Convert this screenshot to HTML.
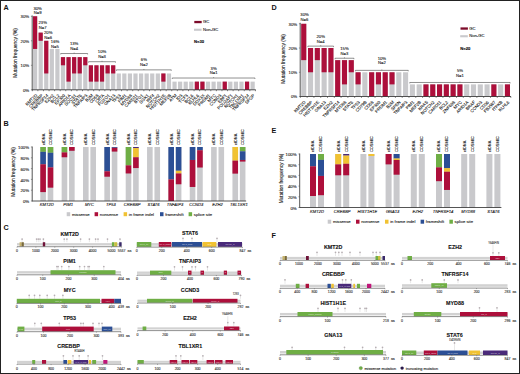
<!DOCTYPE html>
<html><head><meta charset="utf-8"><style>
html,body{margin:0;padding:0;background:#fff;}
body{width:520px;height:374px;overflow:hidden;}
svg{display:block;}
</style></head><body>
<svg width="520" height="374" viewBox="0 0 520 374" style="font-family:'Liberation Sans', sans-serif">
<rect x="0.00" y="0.00" width="520.00" height="374.00" fill="#fff" />
<text x="3.60" y="9.60" font-size="7.2" text-anchor="start" font-weight="bold" font-style="normal" fill="#111" >A</text>
<rect x="33.00" y="16.27" width="4.20" height="73.53" fill="#c9c9cc" />
<rect x="33.00" y="16.27" width="4.20" height="32.68" fill="#ad0f3b" />
<rect x="38.58" y="32.61" width="4.20" height="57.19" fill="#c9c9cc" />
<rect x="38.58" y="32.61" width="4.20" height="8.17" fill="#ad0f3b" />
<rect x="44.16" y="40.78" width="4.20" height="49.02" fill="#c9c9cc" />
<rect x="44.16" y="40.78" width="4.20" height="32.68" fill="#ad0f3b" />
<rect x="49.73" y="48.95" width="4.20" height="40.85" fill="#c9c9cc" />
<rect x="55.31" y="48.95" width="4.20" height="40.85" fill="#c9c9cc" />
<rect x="60.89" y="57.12" width="4.20" height="32.68" fill="#c9c9cc" />
<rect x="60.89" y="57.12" width="4.20" height="8.17" fill="#ad0f3b" />
<rect x="66.47" y="57.12" width="4.20" height="32.68" fill="#c9c9cc" />
<rect x="66.47" y="57.12" width="4.20" height="24.51" fill="#ad0f3b" />
<rect x="72.05" y="57.12" width="4.20" height="32.68" fill="#c9c9cc" />
<rect x="72.05" y="57.12" width="4.20" height="16.34" fill="#ad0f3b" />
<rect x="77.62" y="57.12" width="4.20" height="32.68" fill="#c9c9cc" />
<rect x="77.62" y="57.12" width="4.20" height="16.34" fill="#ad0f3b" />
<rect x="83.20" y="57.12" width="4.20" height="32.68" fill="#c9c9cc" />
<rect x="83.20" y="57.12" width="4.20" height="8.17" fill="#ad0f3b" />
<rect x="88.78" y="65.29" width="4.20" height="24.51" fill="#c9c9cc" />
<rect x="88.78" y="65.29" width="4.20" height="16.34" fill="#ad0f3b" />
<rect x="94.36" y="65.29" width="4.20" height="24.51" fill="#c9c9cc" />
<rect x="94.36" y="65.29" width="4.20" height="16.34" fill="#ad0f3b" />
<rect x="99.94" y="65.29" width="4.20" height="24.51" fill="#c9c9cc" />
<rect x="99.94" y="65.29" width="4.20" height="16.34" fill="#ad0f3b" />
<rect x="105.51" y="65.29" width="4.20" height="24.51" fill="#c9c9cc" />
<rect x="105.51" y="65.29" width="4.20" height="8.17" fill="#ad0f3b" />
<rect x="111.09" y="65.29" width="4.20" height="24.51" fill="#c9c9cc" />
<rect x="111.09" y="65.29" width="4.20" height="8.17" fill="#ad0f3b" />
<rect x="116.67" y="73.46" width="4.20" height="16.34" fill="#c9c9cc" />
<rect x="122.25" y="73.46" width="4.20" height="16.34" fill="#c9c9cc" />
<rect x="127.83" y="73.46" width="4.20" height="16.34" fill="#c9c9cc" />
<rect x="133.40" y="73.46" width="4.20" height="16.34" fill="#c9c9cc" />
<rect x="138.98" y="73.46" width="4.20" height="16.34" fill="#c9c9cc" />
<rect x="144.56" y="73.46" width="4.20" height="16.34" fill="#c9c9cc" />
<rect x="150.14" y="73.46" width="4.20" height="16.34" fill="#c9c9cc" />
<rect x="155.72" y="73.46" width="4.20" height="16.34" fill="#c9c9cc" />
<rect x="161.29" y="73.46" width="4.20" height="16.34" fill="#c9c9cc" />
<rect x="161.29" y="73.46" width="4.20" height="8.17" fill="#ad0f3b" />
<rect x="166.87" y="73.46" width="4.20" height="16.34" fill="#c9c9cc" />
<rect x="172.45" y="81.63" width="4.20" height="8.17" fill="#c9c9cc" />
<rect x="178.03" y="81.63" width="4.20" height="8.17" fill="#c9c9cc" />
<rect x="183.61" y="81.63" width="4.20" height="8.17" fill="#c9c9cc" />
<rect x="189.18" y="81.63" width="4.20" height="8.17" fill="#c9c9cc" />
<rect x="194.76" y="81.63" width="4.20" height="8.17" fill="#c9c9cc" />
<rect x="194.76" y="81.63" width="4.20" height="8.17" fill="#ad0f3b" />
<rect x="200.34" y="81.63" width="4.20" height="8.17" fill="#c9c9cc" />
<rect x="200.34" y="81.63" width="4.20" height="8.17" fill="#ad0f3b" />
<rect x="205.92" y="81.63" width="4.20" height="8.17" fill="#c9c9cc" />
<rect x="211.50" y="81.63" width="4.20" height="8.17" fill="#c9c9cc" />
<rect x="217.07" y="81.63" width="4.20" height="8.17" fill="#c9c9cc" />
<rect x="222.65" y="81.63" width="4.20" height="8.17" fill="#c9c9cc" />
<rect x="222.65" y="81.63" width="4.20" height="8.17" fill="#ad0f3b" />
<rect x="228.23" y="81.63" width="4.20" height="8.17" fill="#c9c9cc" />
<rect x="233.81" y="81.63" width="4.20" height="8.17" fill="#c9c9cc" />
<rect x="239.39" y="81.63" width="4.20" height="8.17" fill="#c9c9cc" />
<rect x="244.96" y="81.63" width="4.20" height="8.17" fill="#c9c9cc" />
<rect x="244.96" y="81.63" width="4.20" height="8.17" fill="#ad0f3b" />
<rect x="250.54" y="81.63" width="4.20" height="8.17" fill="#c9c9cc" />
<line x1="32.20" y1="15.50" x2="32.20" y2="90.20" stroke="#2a2a2a" stroke-width="0.8"/>
<line x1="32.20" y1="89.80" x2="255.74" y2="89.80" stroke="#2a2a2a" stroke-width="0.8"/>
<line x1="32.31" y1="89.80" x2="32.31" y2="91.20" stroke="#333" stroke-width="0.6"/>
<line x1="37.89" y1="89.80" x2="37.89" y2="91.20" stroke="#333" stroke-width="0.6"/>
<line x1="43.47" y1="89.80" x2="43.47" y2="91.20" stroke="#333" stroke-width="0.6"/>
<line x1="49.05" y1="89.80" x2="49.05" y2="91.20" stroke="#333" stroke-width="0.6"/>
<line x1="54.62" y1="89.80" x2="54.62" y2="91.20" stroke="#333" stroke-width="0.6"/>
<line x1="60.20" y1="89.80" x2="60.20" y2="91.20" stroke="#333" stroke-width="0.6"/>
<line x1="65.78" y1="89.80" x2="65.78" y2="91.20" stroke="#333" stroke-width="0.6"/>
<line x1="71.36" y1="89.80" x2="71.36" y2="91.20" stroke="#333" stroke-width="0.6"/>
<line x1="76.94" y1="89.80" x2="76.94" y2="91.20" stroke="#333" stroke-width="0.6"/>
<line x1="82.51" y1="89.80" x2="82.51" y2="91.20" stroke="#333" stroke-width="0.6"/>
<line x1="88.09" y1="89.80" x2="88.09" y2="91.20" stroke="#333" stroke-width="0.6"/>
<line x1="93.67" y1="89.80" x2="93.67" y2="91.20" stroke="#333" stroke-width="0.6"/>
<line x1="99.25" y1="89.80" x2="99.25" y2="91.20" stroke="#333" stroke-width="0.6"/>
<line x1="104.83" y1="89.80" x2="104.83" y2="91.20" stroke="#333" stroke-width="0.6"/>
<line x1="110.40" y1="89.80" x2="110.40" y2="91.20" stroke="#333" stroke-width="0.6"/>
<line x1="115.98" y1="89.80" x2="115.98" y2="91.20" stroke="#333" stroke-width="0.6"/>
<line x1="121.56" y1="89.80" x2="121.56" y2="91.20" stroke="#333" stroke-width="0.6"/>
<line x1="127.14" y1="89.80" x2="127.14" y2="91.20" stroke="#333" stroke-width="0.6"/>
<line x1="132.72" y1="89.80" x2="132.72" y2="91.20" stroke="#333" stroke-width="0.6"/>
<line x1="138.29" y1="89.80" x2="138.29" y2="91.20" stroke="#333" stroke-width="0.6"/>
<line x1="143.87" y1="89.80" x2="143.87" y2="91.20" stroke="#333" stroke-width="0.6"/>
<line x1="149.45" y1="89.80" x2="149.45" y2="91.20" stroke="#333" stroke-width="0.6"/>
<line x1="155.03" y1="89.80" x2="155.03" y2="91.20" stroke="#333" stroke-width="0.6"/>
<line x1="160.61" y1="89.80" x2="160.61" y2="91.20" stroke="#333" stroke-width="0.6"/>
<line x1="166.18" y1="89.80" x2="166.18" y2="91.20" stroke="#333" stroke-width="0.6"/>
<line x1="171.76" y1="89.80" x2="171.76" y2="91.20" stroke="#333" stroke-width="0.6"/>
<line x1="177.34" y1="89.80" x2="177.34" y2="91.20" stroke="#333" stroke-width="0.6"/>
<line x1="182.92" y1="89.80" x2="182.92" y2="91.20" stroke="#333" stroke-width="0.6"/>
<line x1="188.50" y1="89.80" x2="188.50" y2="91.20" stroke="#333" stroke-width="0.6"/>
<line x1="194.07" y1="89.80" x2="194.07" y2="91.20" stroke="#333" stroke-width="0.6"/>
<line x1="199.65" y1="89.80" x2="199.65" y2="91.20" stroke="#333" stroke-width="0.6"/>
<line x1="205.23" y1="89.80" x2="205.23" y2="91.20" stroke="#333" stroke-width="0.6"/>
<line x1="210.81" y1="89.80" x2="210.81" y2="91.20" stroke="#333" stroke-width="0.6"/>
<line x1="216.39" y1="89.80" x2="216.39" y2="91.20" stroke="#333" stroke-width="0.6"/>
<line x1="221.96" y1="89.80" x2="221.96" y2="91.20" stroke="#333" stroke-width="0.6"/>
<line x1="227.54" y1="89.80" x2="227.54" y2="91.20" stroke="#333" stroke-width="0.6"/>
<line x1="233.12" y1="89.80" x2="233.12" y2="91.20" stroke="#333" stroke-width="0.6"/>
<line x1="238.70" y1="89.80" x2="238.70" y2="91.20" stroke="#333" stroke-width="0.6"/>
<line x1="244.28" y1="89.80" x2="244.28" y2="91.20" stroke="#333" stroke-width="0.6"/>
<line x1="249.85" y1="89.80" x2="249.85" y2="91.20" stroke="#333" stroke-width="0.6"/>
<line x1="255.43" y1="89.80" x2="255.43" y2="91.20" stroke="#333" stroke-width="0.6"/>
<line x1="30.90" y1="89.80" x2="32.20" y2="89.80" stroke="#444" stroke-width="0.5"/>
<text x="29.20" y="91.70" font-size="4.3" text-anchor="end" font-weight="normal" font-style="normal" fill="#1a1a1a" stroke="#1a1a1a" stroke-width="0.1" >0%</text>
<line x1="30.90" y1="65.30" x2="32.20" y2="65.30" stroke="#444" stroke-width="0.5"/>
<text x="29.20" y="67.20" font-size="4.3" text-anchor="end" font-weight="normal" font-style="normal" fill="#1a1a1a" stroke="#1a1a1a" stroke-width="0.1" >10%</text>
<line x1="30.90" y1="40.80" x2="32.20" y2="40.80" stroke="#444" stroke-width="0.5"/>
<text x="29.20" y="42.70" font-size="4.3" text-anchor="end" font-weight="normal" font-style="normal" fill="#1a1a1a" stroke="#1a1a1a" stroke-width="0.1" >20%</text>
<line x1="30.90" y1="16.30" x2="32.20" y2="16.30" stroke="#444" stroke-width="0.5"/>
<text x="29.20" y="18.20" font-size="4.3" text-anchor="end" font-weight="normal" font-style="normal" fill="#1a1a1a" stroke="#1a1a1a" stroke-width="0.1" >30%</text>
<text x="16.70" y="53.00" font-size="4.8" text-anchor="middle" font-weight="normal" font-style="normal" fill="#1a1a1a" stroke="#1a1a1a" stroke-width="0.1" transform="rotate(-90 16.70 53.00)" >Mutation frequency (%)</text>
<text x="37.60" y="95.80" font-size="4.3" text-anchor="end" font-weight="normal" font-style="normal" fill="#222" stroke="#222" stroke-width="0.1" transform="rotate(-45 37.60 95.80)" >KMT2D</text>
<text x="43.18" y="95.80" font-size="4.3" text-anchor="end" font-weight="normal" font-style="normal" fill="#222" stroke="#222" stroke-width="0.1" transform="rotate(-45 43.18 95.80)" >CREBBP</text>
<text x="48.76" y="95.80" font-size="4.3" text-anchor="end" font-weight="normal" font-style="normal" fill="#222" stroke="#222" stroke-width="0.1" transform="rotate(-45 48.76 95.80)" >TNFRSF14</text>
<text x="54.33" y="95.80" font-size="4.3" text-anchor="end" font-weight="normal" font-style="normal" fill="#222" stroke="#222" stroke-width="0.1" transform="rotate(-45 54.33 95.80)" >EZH2</text>
<text x="59.91" y="95.80" font-size="4.3" text-anchor="end" font-weight="normal" font-style="normal" fill="#222" stroke="#222" stroke-width="0.1" transform="rotate(-45 59.91 95.80)" >BCL2</text>
<text x="65.49" y="95.80" font-size="4.3" text-anchor="end" font-weight="normal" font-style="normal" fill="#222" stroke="#222" stroke-width="0.1" transform="rotate(-45 65.49 95.80)" >EP300</text>
<text x="71.07" y="95.80" font-size="4.3" text-anchor="end" font-weight="normal" font-style="normal" fill="#222" stroke="#222" stroke-width="0.1" transform="rotate(-45 71.07 95.80)" >ARID1A</text>
<text x="76.65" y="95.80" font-size="4.3" text-anchor="end" font-weight="normal" font-style="normal" fill="#222" stroke="#222" stroke-width="0.1" transform="rotate(-45 76.65 95.80)" >SOCS1</text>
<text x="82.22" y="95.80" font-size="4.3" text-anchor="end" font-weight="normal" font-style="normal" fill="#222" stroke="#222" stroke-width="0.1" transform="rotate(-45 82.22 95.80)" >STAT6</text>
<text x="87.80" y="95.80" font-size="4.3" text-anchor="end" font-weight="normal" font-style="normal" fill="#222" stroke="#222" stroke-width="0.1" transform="rotate(-45 87.80 95.80)" >TNFAIP3</text>
<text x="93.38" y="95.80" font-size="4.3" text-anchor="end" font-weight="normal" font-style="normal" fill="#222" stroke="#222" stroke-width="0.1" transform="rotate(-45 93.38 95.80)" >B2M</text>
<text x="98.96" y="95.80" font-size="4.3" text-anchor="end" font-weight="normal" font-style="normal" fill="#222" stroke="#222" stroke-width="0.1" transform="rotate(-45 98.96 95.80)" >CD58</text>
<text x="104.54" y="95.80" font-size="4.3" text-anchor="end" font-weight="normal" font-style="normal" fill="#222" stroke="#222" stroke-width="0.1" transform="rotate(-45 104.54 95.80)" >CIITA</text>
<text x="110.11" y="95.80" font-size="4.3" text-anchor="end" font-weight="normal" font-style="normal" fill="#222" stroke="#222" stroke-width="0.1" transform="rotate(-45 110.11 95.80)" >FOXO1</text>
<text x="115.69" y="95.80" font-size="4.3" text-anchor="end" font-weight="normal" font-style="normal" fill="#222" stroke="#222" stroke-width="0.1" transform="rotate(-45 115.69 95.80)" >GNA13</text>
<text x="121.27" y="95.80" font-size="4.3" text-anchor="end" font-weight="normal" font-style="normal" fill="#222" stroke="#222" stroke-width="0.1" transform="rotate(-45 121.27 95.80)" >TP53</text>
<text x="126.85" y="95.80" font-size="4.3" text-anchor="end" font-weight="normal" font-style="normal" fill="#222" stroke="#222" stroke-width="0.1" transform="rotate(-45 126.85 95.80)" >PIM1</text>
<text x="132.43" y="95.80" font-size="4.3" text-anchor="end" font-weight="normal" font-style="normal" fill="#222" stroke="#222" stroke-width="0.1" transform="rotate(-45 132.43 95.80)" >MYD88</text>
<text x="138.00" y="95.80" font-size="4.3" text-anchor="end" font-weight="normal" font-style="normal" fill="#222" stroke="#222" stroke-width="0.1" transform="rotate(-45 138.00 95.80)" >CARD11</text>
<text x="143.58" y="95.80" font-size="4.3" text-anchor="end" font-weight="normal" font-style="normal" fill="#222" stroke="#222" stroke-width="0.1" transform="rotate(-45 143.58 95.80)" >BTG1</text>
<text x="149.16" y="95.80" font-size="4.3" text-anchor="end" font-weight="normal" font-style="normal" fill="#222" stroke="#222" stroke-width="0.1" transform="rotate(-45 149.16 95.80)" >SGK1</text>
<text x="154.74" y="95.80" font-size="4.3" text-anchor="end" font-weight="normal" font-style="normal" fill="#222" stroke="#222" stroke-width="0.1" transform="rotate(-45 154.74 95.80)" >IRF4</text>
<text x="160.32" y="95.80" font-size="4.3" text-anchor="end" font-weight="normal" font-style="normal" fill="#222" stroke="#222" stroke-width="0.1" transform="rotate(-45 160.32 95.80)" >NOTCH2</text>
<text x="165.89" y="95.80" font-size="4.3" text-anchor="end" font-weight="normal" font-style="normal" fill="#222" stroke="#222" stroke-width="0.1" transform="rotate(-45 165.89 95.80)" >HIST1H1E</text>
<text x="171.47" y="95.80" font-size="4.3" text-anchor="end" font-weight="normal" font-style="normal" fill="#222" stroke="#222" stroke-width="0.1" transform="rotate(-45 171.47 95.80)" >MEF2B</text>
<text x="177.05" y="95.80" font-size="4.3" text-anchor="end" font-weight="normal" font-style="normal" fill="#222" stroke="#222" stroke-width="0.1" transform="rotate(-45 177.05 95.80)" >ATM</text>
<text x="182.63" y="95.80" font-size="4.3" text-anchor="end" font-weight="normal" font-style="normal" fill="#222" stroke="#222" stroke-width="0.1" transform="rotate(-45 182.63 95.80)" >ID3</text>
<text x="188.21" y="95.80" font-size="4.3" text-anchor="end" font-weight="normal" font-style="normal" fill="#222" stroke="#222" stroke-width="0.1" transform="rotate(-45 188.21 95.80)" >TCF3</text>
<text x="193.78" y="95.80" font-size="4.3" text-anchor="end" font-weight="normal" font-style="normal" fill="#222" stroke="#222" stroke-width="0.1" transform="rotate(-45 193.78 95.80)" >BCL6</text>
<text x="199.36" y="95.80" font-size="4.3" text-anchor="end" font-weight="normal" font-style="normal" fill="#222" stroke="#222" stroke-width="0.1" transform="rotate(-45 199.36 95.80)" >KLHL6</text>
<text x="204.94" y="95.80" font-size="4.3" text-anchor="end" font-weight="normal" font-style="normal" fill="#222" stroke="#222" stroke-width="0.1" transform="rotate(-45 204.94 95.80)" >DDX3X</text>
<text x="210.52" y="95.80" font-size="4.3" text-anchor="end" font-weight="normal" font-style="normal" fill="#222" stroke="#222" stroke-width="0.1" transform="rotate(-45 210.52 95.80)" >PRDM1</text>
<text x="216.10" y="95.80" font-size="4.3" text-anchor="end" font-weight="normal" font-style="normal" fill="#222" stroke="#222" stroke-width="0.1" transform="rotate(-45 216.10 95.80)" >MYC</text>
<text x="221.67" y="95.80" font-size="4.3" text-anchor="end" font-weight="normal" font-style="normal" fill="#222" stroke="#222" stroke-width="0.1" transform="rotate(-45 221.67 95.80)" >CCND3</text>
<text x="227.25" y="95.80" font-size="4.3" text-anchor="end" font-weight="normal" font-style="normal" fill="#222" stroke="#222" stroke-width="0.1" transform="rotate(-45 227.25 95.80)" >EBF1</text>
<text x="232.83" y="95.80" font-size="4.3" text-anchor="end" font-weight="normal" font-style="normal" fill="#222" stroke="#222" stroke-width="0.1" transform="rotate(-45 232.83 95.80)" >POU2AF1</text>
<text x="238.41" y="95.80" font-size="4.3" text-anchor="end" font-weight="normal" font-style="normal" fill="#222" stroke="#222" stroke-width="0.1" transform="rotate(-45 238.41 95.80)" >NOTCH1</text>
<text x="243.99" y="95.80" font-size="4.3" text-anchor="end" font-weight="normal" font-style="normal" fill="#222" stroke="#222" stroke-width="0.1" transform="rotate(-45 243.99 95.80)" >TBL1XR1</text>
<text x="249.56" y="95.80" font-size="4.3" text-anchor="end" font-weight="normal" font-style="normal" fill="#222" stroke="#222" stroke-width="0.1" transform="rotate(-45 249.56 95.80)" >TNFRSF14</text>
<text x="255.14" y="95.80" font-size="4.3" text-anchor="end" font-weight="normal" font-style="normal" fill="#222" stroke="#222" stroke-width="0.1" transform="rotate(-45 255.14 95.80)" >SPOP</text>
<text x="37.60" y="9.85" font-size="4.2" text-anchor="middle" font-weight="normal" font-style="normal" fill="#1a1a1a" stroke="#1a1a1a" stroke-width="0.1" >30%</text>
<text x="37.60" y="14.15" font-size="4.2" text-anchor="middle" font-weight="normal" font-style="normal" fill="#1a1a1a" stroke="#1a1a1a" stroke-width="0.1" >N=9</text>
<text x="42.70" y="23.80" font-size="4.2" text-anchor="middle" font-weight="normal" font-style="normal" fill="#1a1a1a" stroke="#1a1a1a" stroke-width="0.1" >23%</text>
<text x="42.70" y="28.90" font-size="4.2" text-anchor="middle" font-weight="normal" font-style="normal" fill="#1a1a1a" stroke="#1a1a1a" stroke-width="0.1" >N=7</text>
<text x="48.20" y="33.90" font-size="4.2" text-anchor="middle" font-weight="normal" font-style="normal" fill="#1a1a1a" stroke="#1a1a1a" stroke-width="0.1" >20%</text>
<text x="48.20" y="38.50" font-size="4.2" text-anchor="middle" font-weight="normal" font-style="normal" fill="#1a1a1a" stroke="#1a1a1a" stroke-width="0.1" >N=6</text>
<text x="55.00" y="42.80" font-size="4.2" text-anchor="middle" font-weight="normal" font-style="normal" fill="#1a1a1a" stroke="#1a1a1a" stroke-width="0.1" >16%</text>
<text x="55.00" y="47.60" font-size="4.2" text-anchor="middle" font-weight="normal" font-style="normal" fill="#1a1a1a" stroke="#1a1a1a" stroke-width="0.1" >N=5</text>
<line x1="60.69" y1="53.52" x2="87.60" y2="53.52" stroke="#444" stroke-width="0.6"/>
<line x1="60.69" y1="53.42" x2="60.69" y2="54.52" stroke="#444" stroke-width="0.5"/>
<line x1="87.60" y1="53.42" x2="87.60" y2="54.52" stroke="#444" stroke-width="0.5"/>
<line x1="74.15" y1="52.62" x2="74.15" y2="53.52" stroke="#444" stroke-width="0.5"/>
<text x="74.15" y="45.12" font-size="4.2" text-anchor="middle" font-weight="normal" font-style="normal" fill="#1a1a1a" stroke="#1a1a1a" stroke-width="0.1" >13%</text>
<text x="74.15" y="49.72" font-size="4.2" text-anchor="middle" font-weight="normal" font-style="normal" fill="#1a1a1a" stroke="#1a1a1a" stroke-width="0.1" >N=4</text>
<line x1="88.58" y1="61.69" x2="115.49" y2="61.69" stroke="#444" stroke-width="0.6"/>
<line x1="88.58" y1="61.59" x2="88.58" y2="62.69" stroke="#444" stroke-width="0.5"/>
<line x1="115.49" y1="61.59" x2="115.49" y2="62.69" stroke="#444" stroke-width="0.5"/>
<line x1="102.04" y1="60.79" x2="102.04" y2="61.69" stroke="#444" stroke-width="0.5"/>
<text x="102.04" y="53.29" font-size="4.2" text-anchor="middle" font-weight="normal" font-style="normal" fill="#1a1a1a" stroke="#1a1a1a" stroke-width="0.1" >10%</text>
<text x="102.04" y="57.89" font-size="4.2" text-anchor="middle" font-weight="normal" font-style="normal" fill="#1a1a1a" stroke="#1a1a1a" stroke-width="0.1" >N=3</text>
<line x1="116.47" y1="69.86" x2="171.27" y2="69.86" stroke="#444" stroke-width="0.6"/>
<line x1="116.47" y1="69.76" x2="116.47" y2="70.86" stroke="#444" stroke-width="0.5"/>
<line x1="171.27" y1="69.76" x2="171.27" y2="70.86" stroke="#444" stroke-width="0.5"/>
<line x1="143.87" y1="68.96" x2="143.87" y2="69.86" stroke="#444" stroke-width="0.5"/>
<text x="143.87" y="61.46" font-size="4.2" text-anchor="middle" font-weight="normal" font-style="normal" fill="#1a1a1a" stroke="#1a1a1a" stroke-width="0.1" >6%</text>
<text x="143.87" y="66.06" font-size="4.2" text-anchor="middle" font-weight="normal" font-style="normal" fill="#1a1a1a" stroke="#1a1a1a" stroke-width="0.1" >N=2</text>
<line x1="172.25" y1="78.03" x2="254.94" y2="78.03" stroke="#444" stroke-width="0.6"/>
<line x1="172.25" y1="77.93" x2="172.25" y2="79.03" stroke="#444" stroke-width="0.5"/>
<line x1="254.94" y1="77.93" x2="254.94" y2="79.03" stroke="#444" stroke-width="0.5"/>
<line x1="213.60" y1="77.13" x2="213.60" y2="78.03" stroke="#444" stroke-width="0.5"/>
<text x="213.60" y="69.63" font-size="4.2" text-anchor="middle" font-weight="normal" font-style="normal" fill="#1a1a1a" stroke="#1a1a1a" stroke-width="0.1" >3%</text>
<text x="213.60" y="74.23" font-size="4.2" text-anchor="middle" font-weight="normal" font-style="normal" fill="#1a1a1a" stroke="#1a1a1a" stroke-width="0.1" >N=1</text>
<rect x="194.30" y="20.90" width="7.40" height="2.30" fill="#7c0a2a" />
<text x="203.00" y="23.00" font-size="4.2" text-anchor="start" font-weight="normal" font-style="normal" fill="#1a1a1a" stroke="#1a1a1a" stroke-width="0.1" >GC</text>
<rect x="194.00" y="28.70" width="7.60" height="2.10" fill="#c9c9cc" />
<text x="203.00" y="30.90" font-size="4.2" text-anchor="start" font-weight="normal" font-style="normal" fill="#1a1a1a" stroke="#1a1a1a" stroke-width="0.1" >Non-GC</text>
<text x="194.00" y="43.40" font-size="4.2" text-anchor="start" font-weight="bold" font-style="normal" fill="#000" stroke="#000" stroke-width="0.1" >N=30</text>
<text x="271.60" y="9.60" font-size="7.2" text-anchor="start" font-weight="bold" font-style="normal" fill="#111" >D</text>
<rect x="301.20" y="23.78" width="5.10" height="72.72" fill="#c9c9cc" />
<rect x="301.20" y="23.78" width="5.10" height="36.36" fill="#ad0f3b" />
<rect x="307.99" y="48.02" width="5.10" height="48.48" fill="#c9c9cc" />
<rect x="307.99" y="48.02" width="5.10" height="24.24" fill="#ad0f3b" />
<rect x="314.78" y="48.02" width="5.10" height="48.48" fill="#c9c9cc" />
<rect x="314.78" y="48.02" width="5.10" height="12.12" fill="#ad0f3b" />
<rect x="321.57" y="48.02" width="5.10" height="48.48" fill="#c9c9cc" />
<rect x="321.57" y="48.02" width="5.10" height="24.24" fill="#ad0f3b" />
<rect x="328.36" y="48.02" width="5.10" height="48.48" fill="#c9c9cc" />
<rect x="328.36" y="48.02" width="5.10" height="24.24" fill="#ad0f3b" />
<rect x="335.15" y="60.14" width="5.10" height="36.36" fill="#c9c9cc" />
<rect x="335.15" y="60.14" width="5.10" height="36.36" fill="#ad0f3b" />
<rect x="341.94" y="60.14" width="5.10" height="36.36" fill="#c9c9cc" />
<rect x="341.94" y="60.14" width="5.10" height="24.24" fill="#ad0f3b" />
<rect x="348.73" y="60.14" width="5.10" height="36.36" fill="#c9c9cc" />
<rect x="348.73" y="60.14" width="5.10" height="12.12" fill="#ad0f3b" />
<rect x="355.52" y="72.26" width="5.10" height="24.24" fill="#c9c9cc" />
<rect x="355.52" y="72.26" width="5.10" height="12.12" fill="#ad0f3b" />
<rect x="362.31" y="72.26" width="5.10" height="24.24" fill="#c9c9cc" />
<rect x="369.10" y="72.26" width="5.10" height="24.24" fill="#c9c9cc" />
<rect x="369.10" y="72.26" width="5.10" height="24.24" fill="#ad0f3b" />
<rect x="375.89" y="72.26" width="5.10" height="24.24" fill="#c9c9cc" />
<rect x="375.89" y="72.26" width="5.10" height="12.12" fill="#ad0f3b" />
<rect x="382.68" y="72.26" width="5.10" height="24.24" fill="#c9c9cc" />
<rect x="382.68" y="72.26" width="5.10" height="24.24" fill="#ad0f3b" />
<rect x="389.47" y="72.26" width="5.10" height="24.24" fill="#c9c9cc" />
<rect x="389.47" y="72.26" width="5.10" height="12.12" fill="#ad0f3b" />
<rect x="396.26" y="72.26" width="5.10" height="24.24" fill="#c9c9cc" />
<rect x="403.05" y="72.26" width="5.10" height="24.24" fill="#c9c9cc" />
<rect x="409.84" y="84.38" width="5.10" height="12.12" fill="#c9c9cc" />
<rect x="416.63" y="84.38" width="5.10" height="12.12" fill="#c9c9cc" />
<rect x="423.42" y="84.38" width="5.10" height="12.12" fill="#c9c9cc" />
<rect x="423.42" y="84.38" width="5.10" height="12.12" fill="#ad0f3b" />
<rect x="430.21" y="84.38" width="5.10" height="12.12" fill="#c9c9cc" />
<rect x="430.21" y="84.38" width="5.10" height="12.12" fill="#ad0f3b" />
<rect x="437.00" y="84.38" width="5.10" height="12.12" fill="#c9c9cc" />
<rect x="437.00" y="84.38" width="5.10" height="12.12" fill="#ad0f3b" />
<rect x="443.79" y="84.38" width="5.10" height="12.12" fill="#c9c9cc" />
<rect x="443.79" y="84.38" width="5.10" height="12.12" fill="#ad0f3b" />
<rect x="450.58" y="84.38" width="5.10" height="12.12" fill="#c9c9cc" />
<rect x="450.58" y="84.38" width="5.10" height="12.12" fill="#ad0f3b" />
<rect x="457.37" y="84.38" width="5.10" height="12.12" fill="#c9c9cc" />
<rect x="457.37" y="84.38" width="5.10" height="12.12" fill="#ad0f3b" />
<rect x="464.16" y="84.38" width="5.10" height="12.12" fill="#c9c9cc" />
<rect x="470.95" y="84.38" width="5.10" height="12.12" fill="#c9c9cc" />
<rect x="477.74" y="84.38" width="5.10" height="12.12" fill="#c9c9cc" />
<rect x="484.53" y="84.38" width="5.10" height="12.12" fill="#c9c9cc" />
<rect x="491.32" y="84.38" width="5.10" height="12.12" fill="#c9c9cc" />
<rect x="491.32" y="84.38" width="5.10" height="12.12" fill="#ad0f3b" />
<rect x="498.11" y="84.38" width="5.10" height="12.12" fill="#c9c9cc" />
<rect x="504.90" y="84.38" width="5.10" height="12.12" fill="#c9c9cc" />
<rect x="504.90" y="84.38" width="5.10" height="12.12" fill="#ad0f3b" />
<line x1="300.20" y1="22.80" x2="300.20" y2="96.90" stroke="#2a2a2a" stroke-width="0.8"/>
<line x1="300.20" y1="96.50" x2="511.00" y2="96.50" stroke="#2a2a2a" stroke-width="0.8"/>
<line x1="300.35" y1="96.50" x2="300.35" y2="97.90" stroke="#333" stroke-width="0.6"/>
<line x1="307.14" y1="96.50" x2="307.14" y2="97.90" stroke="#333" stroke-width="0.6"/>
<line x1="313.93" y1="96.50" x2="313.93" y2="97.90" stroke="#333" stroke-width="0.6"/>
<line x1="320.72" y1="96.50" x2="320.72" y2="97.90" stroke="#333" stroke-width="0.6"/>
<line x1="327.51" y1="96.50" x2="327.51" y2="97.90" stroke="#333" stroke-width="0.6"/>
<line x1="334.30" y1="96.50" x2="334.30" y2="97.90" stroke="#333" stroke-width="0.6"/>
<line x1="341.09" y1="96.50" x2="341.09" y2="97.90" stroke="#333" stroke-width="0.6"/>
<line x1="347.88" y1="96.50" x2="347.88" y2="97.90" stroke="#333" stroke-width="0.6"/>
<line x1="354.67" y1="96.50" x2="354.67" y2="97.90" stroke="#333" stroke-width="0.6"/>
<line x1="361.46" y1="96.50" x2="361.46" y2="97.90" stroke="#333" stroke-width="0.6"/>
<line x1="368.25" y1="96.50" x2="368.25" y2="97.90" stroke="#333" stroke-width="0.6"/>
<line x1="375.04" y1="96.50" x2="375.04" y2="97.90" stroke="#333" stroke-width="0.6"/>
<line x1="381.83" y1="96.50" x2="381.83" y2="97.90" stroke="#333" stroke-width="0.6"/>
<line x1="388.62" y1="96.50" x2="388.62" y2="97.90" stroke="#333" stroke-width="0.6"/>
<line x1="395.41" y1="96.50" x2="395.41" y2="97.90" stroke="#333" stroke-width="0.6"/>
<line x1="402.20" y1="96.50" x2="402.20" y2="97.90" stroke="#333" stroke-width="0.6"/>
<line x1="408.99" y1="96.50" x2="408.99" y2="97.90" stroke="#333" stroke-width="0.6"/>
<line x1="415.78" y1="96.50" x2="415.78" y2="97.90" stroke="#333" stroke-width="0.6"/>
<line x1="422.57" y1="96.50" x2="422.57" y2="97.90" stroke="#333" stroke-width="0.6"/>
<line x1="429.36" y1="96.50" x2="429.36" y2="97.90" stroke="#333" stroke-width="0.6"/>
<line x1="436.15" y1="96.50" x2="436.15" y2="97.90" stroke="#333" stroke-width="0.6"/>
<line x1="442.94" y1="96.50" x2="442.94" y2="97.90" stroke="#333" stroke-width="0.6"/>
<line x1="449.73" y1="96.50" x2="449.73" y2="97.90" stroke="#333" stroke-width="0.6"/>
<line x1="456.52" y1="96.50" x2="456.52" y2="97.90" stroke="#333" stroke-width="0.6"/>
<line x1="463.31" y1="96.50" x2="463.31" y2="97.90" stroke="#333" stroke-width="0.6"/>
<line x1="470.10" y1="96.50" x2="470.10" y2="97.90" stroke="#333" stroke-width="0.6"/>
<line x1="476.89" y1="96.50" x2="476.89" y2="97.90" stroke="#333" stroke-width="0.6"/>
<line x1="483.68" y1="96.50" x2="483.68" y2="97.90" stroke="#333" stroke-width="0.6"/>
<line x1="490.47" y1="96.50" x2="490.47" y2="97.90" stroke="#333" stroke-width="0.6"/>
<line x1="497.26" y1="96.50" x2="497.26" y2="97.90" stroke="#333" stroke-width="0.6"/>
<line x1="504.05" y1="96.50" x2="504.05" y2="97.90" stroke="#333" stroke-width="0.6"/>
<line x1="510.84" y1="96.50" x2="510.84" y2="97.90" stroke="#333" stroke-width="0.6"/>
<line x1="298.90" y1="96.50" x2="300.20" y2="96.50" stroke="#444" stroke-width="0.5"/>
<text x="297.20" y="98.40" font-size="4.3" text-anchor="end" font-weight="normal" font-style="normal" fill="#1a1a1a" stroke="#1a1a1a" stroke-width="0.1" >0%</text>
<line x1="298.90" y1="72.27" x2="300.20" y2="72.27" stroke="#444" stroke-width="0.5"/>
<text x="297.20" y="74.17" font-size="4.3" text-anchor="end" font-weight="normal" font-style="normal" fill="#1a1a1a" stroke="#1a1a1a" stroke-width="0.1" >10%</text>
<line x1="298.90" y1="48.04" x2="300.20" y2="48.04" stroke="#444" stroke-width="0.5"/>
<text x="297.20" y="49.94" font-size="4.3" text-anchor="end" font-weight="normal" font-style="normal" fill="#1a1a1a" stroke="#1a1a1a" stroke-width="0.1" >20%</text>
<line x1="298.90" y1="23.81" x2="300.20" y2="23.81" stroke="#444" stroke-width="0.5"/>
<text x="297.20" y="25.71" font-size="4.3" text-anchor="end" font-weight="normal" font-style="normal" fill="#1a1a1a" stroke="#1a1a1a" stroke-width="0.1" >30%</text>
<text x="284.50" y="59.00" font-size="4.8" text-anchor="middle" font-weight="normal" font-style="normal" fill="#1a1a1a" stroke="#1a1a1a" stroke-width="0.1" transform="rotate(-90 284.50 59.00)" >Mutation frequency (%)</text>
<text x="305.95" y="102.50" font-size="4.3" text-anchor="end" font-weight="normal" font-style="normal" fill="#222" stroke="#222" stroke-width="0.1" transform="rotate(-45 305.95 102.50)" >KMT2D</text>
<text x="312.74" y="102.50" font-size="4.3" text-anchor="end" font-weight="normal" font-style="normal" fill="#222" stroke="#222" stroke-width="0.1" transform="rotate(-45 312.74 102.50)" >CREBBP</text>
<text x="319.53" y="102.50" font-size="4.3" text-anchor="end" font-weight="normal" font-style="normal" fill="#222" stroke="#222" stroke-width="0.1" transform="rotate(-45 319.53 102.50)" >HIST1H1E</text>
<text x="326.32" y="102.50" font-size="4.3" text-anchor="end" font-weight="normal" font-style="normal" fill="#222" stroke="#222" stroke-width="0.1" transform="rotate(-45 326.32 102.50)" >GNA13</text>
<text x="333.11" y="102.50" font-size="4.3" text-anchor="end" font-weight="normal" font-style="normal" fill="#222" stroke="#222" stroke-width="0.1" transform="rotate(-45 333.11 102.50)" >EZH2</text>
<text x="339.90" y="102.50" font-size="4.3" text-anchor="end" font-weight="normal" font-style="normal" fill="#222" stroke="#222" stroke-width="0.1" transform="rotate(-45 339.90 102.50)" >TNFRSF14</text>
<text x="346.69" y="102.50" font-size="4.3" text-anchor="end" font-weight="normal" font-style="normal" fill="#222" stroke="#222" stroke-width="0.1" transform="rotate(-45 346.69 102.50)" >MYD88</text>
<text x="353.48" y="102.50" font-size="4.3" text-anchor="end" font-weight="normal" font-style="normal" fill="#222" stroke="#222" stroke-width="0.1" transform="rotate(-45 353.48 102.50)" >STAT6</text>
<text x="360.27" y="102.50" font-size="4.3" text-anchor="end" font-weight="normal" font-style="normal" fill="#222" stroke="#222" stroke-width="0.1" transform="rotate(-45 360.27 102.50)" >TP53</text>
<text x="367.06" y="102.50" font-size="4.3" text-anchor="end" font-weight="normal" font-style="normal" fill="#222" stroke="#222" stroke-width="0.1" transform="rotate(-45 367.06 102.50)" >CD79B</text>
<text x="373.85" y="102.50" font-size="4.3" text-anchor="end" font-weight="normal" font-style="normal" fill="#222" stroke="#222" stroke-width="0.1" transform="rotate(-45 373.85 102.50)" >CD58</text>
<text x="380.64" y="102.50" font-size="4.3" text-anchor="end" font-weight="normal" font-style="normal" fill="#222" stroke="#222" stroke-width="0.1" transform="rotate(-45 380.64 102.50)" >EP300</text>
<text x="387.43" y="102.50" font-size="4.3" text-anchor="end" font-weight="normal" font-style="normal" fill="#222" stroke="#222" stroke-width="0.1" transform="rotate(-45 387.43 102.50)" >PRDM1</text>
<text x="394.22" y="102.50" font-size="4.3" text-anchor="end" font-weight="normal" font-style="normal" fill="#222" stroke="#222" stroke-width="0.1" transform="rotate(-45 394.22 102.50)" >B2M</text>
<text x="401.01" y="102.50" font-size="4.3" text-anchor="end" font-weight="normal" font-style="normal" fill="#222" stroke="#222" stroke-width="0.1" transform="rotate(-45 401.01 102.50)" >SPEN</text>
<text x="407.80" y="102.50" font-size="4.3" text-anchor="end" font-weight="normal" font-style="normal" fill="#222" stroke="#222" stroke-width="0.1" transform="rotate(-45 407.80 102.50)" >TNFAIP3</text>
<text x="414.59" y="102.50" font-size="4.3" text-anchor="end" font-weight="normal" font-style="normal" fill="#222" stroke="#222" stroke-width="0.1" transform="rotate(-45 414.59 102.50)" >PIM1</text>
<text x="421.38" y="102.50" font-size="4.3" text-anchor="end" font-weight="normal" font-style="normal" fill="#222" stroke="#222" stroke-width="0.1" transform="rotate(-45 421.38 102.50)" >MEF2B</text>
<text x="428.17" y="102.50" font-size="4.3" text-anchor="end" font-weight="normal" font-style="normal" fill="#222" stroke="#222" stroke-width="0.1" transform="rotate(-45 428.17 102.50)" >KRAS</text>
<text x="434.96" y="102.50" font-size="4.3" text-anchor="end" font-weight="normal" font-style="normal" fill="#222" stroke="#222" stroke-width="0.1" transform="rotate(-45 434.96 102.50)" >NOTCH2</text>
<text x="441.75" y="102.50" font-size="4.3" text-anchor="end" font-weight="normal" font-style="normal" fill="#222" stroke="#222" stroke-width="0.1" transform="rotate(-45 441.75 102.50)" >CARD11</text>
<text x="448.54" y="102.50" font-size="4.3" text-anchor="end" font-weight="normal" font-style="normal" fill="#222" stroke="#222" stroke-width="0.1" transform="rotate(-45 448.54 102.50)" >BCL2</text>
<text x="455.33" y="102.50" font-size="4.3" text-anchor="end" font-weight="normal" font-style="normal" fill="#222" stroke="#222" stroke-width="0.1" transform="rotate(-45 455.33 102.50)" >ZNF608</text>
<text x="462.12" y="102.50" font-size="4.3" text-anchor="end" font-weight="normal" font-style="normal" fill="#222" stroke="#222" stroke-width="0.1" transform="rotate(-45 462.12 102.50)" >MYC</text>
<text x="468.91" y="102.50" font-size="4.3" text-anchor="end" font-weight="normal" font-style="normal" fill="#222" stroke="#222" stroke-width="0.1" transform="rotate(-45 468.91 102.50)" >ARID1A</text>
<text x="475.70" y="102.50" font-size="4.3" text-anchor="end" font-weight="normal" font-style="normal" fill="#222" stroke="#222" stroke-width="0.1" transform="rotate(-45 475.70 102.50)" >BRAF</text>
<text x="482.49" y="102.50" font-size="4.3" text-anchor="end" font-weight="normal" font-style="normal" fill="#222" stroke="#222" stroke-width="0.1" transform="rotate(-45 482.49 102.50)" >CCND3</text>
<text x="489.28" y="102.50" font-size="4.3" text-anchor="end" font-weight="normal" font-style="normal" fill="#222" stroke="#222" stroke-width="0.1" transform="rotate(-45 489.28 102.50)" >CD36</text>
<text x="496.07" y="102.50" font-size="4.3" text-anchor="end" font-weight="normal" font-style="normal" fill="#222" stroke="#222" stroke-width="0.1" transform="rotate(-45 496.07 102.50)" >FBXW7</text>
<text x="502.86" y="102.50" font-size="4.3" text-anchor="end" font-weight="normal" font-style="normal" fill="#222" stroke="#222" stroke-width="0.1" transform="rotate(-45 502.86 102.50)" >ITPKB</text>
<text x="509.65" y="102.50" font-size="4.3" text-anchor="end" font-weight="normal" font-style="normal" fill="#222" stroke="#222" stroke-width="0.1" transform="rotate(-45 509.65 102.50)" >KLHL6</text>
<text x="304.50" y="16.20" font-size="4.2" text-anchor="middle" font-weight="normal" font-style="normal" fill="#1a1a1a" stroke="#1a1a1a" stroke-width="0.1" >30%</text>
<text x="304.50" y="20.70" font-size="4.2" text-anchor="middle" font-weight="normal" font-style="normal" fill="#1a1a1a" stroke="#1a1a1a" stroke-width="0.1" >N=6</text>
<line x1="307.89" y1="46.12" x2="333.56" y2="46.12" stroke="#444" stroke-width="0.6"/>
<line x1="307.89" y1="46.02" x2="307.89" y2="47.12" stroke="#444" stroke-width="0.5"/>
<line x1="333.56" y1="46.02" x2="333.56" y2="47.12" stroke="#444" stroke-width="0.5"/>
<line x1="320.73" y1="45.22" x2="320.73" y2="46.12" stroke="#444" stroke-width="0.5"/>
<text x="320.73" y="38.02" font-size="4.2" text-anchor="middle" font-weight="normal" font-style="normal" fill="#1a1a1a" stroke="#1a1a1a" stroke-width="0.1" >20%</text>
<text x="320.73" y="42.62" font-size="4.2" text-anchor="middle" font-weight="normal" font-style="normal" fill="#1a1a1a" stroke="#1a1a1a" stroke-width="0.1" >N=4</text>
<line x1="335.05" y1="58.24" x2="353.93" y2="58.24" stroke="#444" stroke-width="0.6"/>
<line x1="335.05" y1="58.14" x2="335.05" y2="59.24" stroke="#444" stroke-width="0.5"/>
<line x1="353.93" y1="58.14" x2="353.93" y2="59.24" stroke="#444" stroke-width="0.5"/>
<line x1="344.49" y1="57.34" x2="344.49" y2="58.24" stroke="#444" stroke-width="0.5"/>
<text x="344.49" y="50.14" font-size="4.2" text-anchor="middle" font-weight="normal" font-style="normal" fill="#1a1a1a" stroke="#1a1a1a" stroke-width="0.1" >15%</text>
<text x="344.49" y="54.74" font-size="4.2" text-anchor="middle" font-weight="normal" font-style="normal" fill="#1a1a1a" stroke="#1a1a1a" stroke-width="0.1" >N=3</text>
<line x1="355.42" y1="70.36" x2="408.25" y2="70.36" stroke="#444" stroke-width="0.6"/>
<line x1="355.42" y1="70.26" x2="355.42" y2="71.36" stroke="#444" stroke-width="0.5"/>
<line x1="408.25" y1="70.26" x2="408.25" y2="71.36" stroke="#444" stroke-width="0.5"/>
<line x1="381.83" y1="69.46" x2="381.83" y2="70.36" stroke="#444" stroke-width="0.5"/>
<text x="381.83" y="59.86" font-size="4.2" text-anchor="middle" font-weight="normal" font-style="normal" fill="#1a1a1a" stroke="#1a1a1a" stroke-width="0.1" >10%</text>
<text x="381.83" y="64.46" font-size="4.2" text-anchor="middle" font-weight="normal" font-style="normal" fill="#1a1a1a" stroke="#1a1a1a" stroke-width="0.1" >N=2</text>
<line x1="409.74" y1="82.48" x2="510.10" y2="82.48" stroke="#444" stroke-width="0.6"/>
<line x1="409.74" y1="82.38" x2="409.74" y2="83.48" stroke="#444" stroke-width="0.5"/>
<line x1="510.10" y1="82.38" x2="510.10" y2="83.48" stroke="#444" stroke-width="0.5"/>
<line x1="459.92" y1="81.58" x2="459.92" y2="82.48" stroke="#444" stroke-width="0.5"/>
<text x="459.92" y="71.98" font-size="4.2" text-anchor="middle" font-weight="normal" font-style="normal" fill="#1a1a1a" stroke="#1a1a1a" stroke-width="0.1" >5%</text>
<text x="459.92" y="76.58" font-size="4.2" text-anchor="middle" font-weight="normal" font-style="normal" fill="#1a1a1a" stroke="#1a1a1a" stroke-width="0.1" >N=1</text>
<rect x="460.50" y="27.40" width="7.40" height="2.30" fill="#7c0a2a" />
<text x="469.20" y="29.50" font-size="4.2" text-anchor="start" font-weight="normal" font-style="normal" fill="#1a1a1a" stroke="#1a1a1a" stroke-width="0.1" >GC</text>
<rect x="460.20" y="35.20" width="7.60" height="2.10" fill="#c9c9cc" />
<text x="469.20" y="37.40" font-size="4.2" text-anchor="start" font-weight="normal" font-style="normal" fill="#1a1a1a" stroke="#1a1a1a" stroke-width="0.1" >Non-GC</text>
<text x="460.20" y="49.90" font-size="4.2" text-anchor="start" font-weight="bold" font-style="normal" fill="#000" stroke="#000" stroke-width="0.1" >N=20</text>
<text x="3.60" y="126.20" font-size="7.2" text-anchor="start" font-weight="bold" font-style="normal" fill="#111" >B</text>
<rect x="40.30" y="147.00" width="5.60" height="54.00" fill="#c9c9cc" />
<rect x="40.30" y="147.00" width="5.60" height="4.86" fill="#6fae45" />
<rect x="40.30" y="151.86" width="5.60" height="12.42" fill="#2c4f95" />
<rect x="40.30" y="164.28" width="5.60" height="27.81" fill="#ad0f3b" />
<text x="44.50" y="145.00" font-size="3.9" text-anchor="start" font-weight="normal" font-style="normal" fill="#1a1a1a" stroke="#1a1a1a" stroke-width="0.1" transform="rotate(-90 44.50 145.00)" >cfDNA</text>
<rect x="47.70" y="147.00" width="5.60" height="54.00" fill="#c9c9cc" />
<rect x="47.70" y="147.00" width="5.60" height="5.78" fill="#6fae45" />
<rect x="47.70" y="152.78" width="5.60" height="14.58" fill="#2c4f95" />
<rect x="47.70" y="167.36" width="5.60" height="20.30" fill="#ad0f3b" />
<text x="51.90" y="145.00" font-size="3.9" text-anchor="start" font-weight="normal" font-style="normal" fill="#1a1a1a" stroke="#1a1a1a" stroke-width="0.1" transform="rotate(-90 51.90 145.00)" >COSMIC</text>
<text x="46.80" y="205.80" font-size="4.1" text-anchor="middle" font-weight="normal" font-style="italic" fill="#111" stroke="#111" stroke-width="0.1" >KMT2D</text>
<rect x="61.65" y="147.00" width="5.60" height="54.00" fill="#c9c9cc" />
<rect x="61.65" y="147.00" width="5.60" height="5.40" fill="#6fae45" />
<rect x="61.65" y="152.40" width="5.60" height="4.86" fill="#ad0f3b" />
<text x="65.85" y="145.00" font-size="3.9" text-anchor="start" font-weight="normal" font-style="normal" fill="#1a1a1a" stroke="#1a1a1a" stroke-width="0.1" transform="rotate(-90 65.85 145.00)" >cfDNA</text>
<rect x="69.05" y="147.00" width="5.60" height="54.00" fill="#c9c9cc" />
<rect x="69.05" y="147.00" width="5.60" height="3.78" fill="#ad0f3b" />
<text x="73.25" y="145.00" font-size="3.9" text-anchor="start" font-weight="normal" font-style="normal" fill="#1a1a1a" stroke="#1a1a1a" stroke-width="0.1" transform="rotate(-90 73.25 145.00)" >COSMIC</text>
<text x="68.15" y="205.80" font-size="4.1" text-anchor="middle" font-weight="normal" font-style="italic" fill="#111" stroke="#111" stroke-width="0.1" >PIM1</text>
<rect x="83.00" y="147.00" width="5.60" height="54.00" fill="#c9c9cc" />
<text x="87.20" y="145.00" font-size="3.9" text-anchor="start" font-weight="normal" font-style="normal" fill="#1a1a1a" stroke="#1a1a1a" stroke-width="0.1" transform="rotate(-90 87.20 145.00)" >cfDNA</text>
<rect x="90.40" y="147.00" width="5.60" height="54.00" fill="#c9c9cc" />
<text x="94.60" y="145.00" font-size="3.9" text-anchor="start" font-weight="normal" font-style="normal" fill="#1a1a1a" stroke="#1a1a1a" stroke-width="0.1" transform="rotate(-90 94.60 145.00)" >COSMIC</text>
<text x="89.50" y="205.80" font-size="4.1" text-anchor="middle" font-weight="normal" font-style="italic" fill="#111" stroke="#111" stroke-width="0.1" >MYC</text>
<rect x="104.35" y="147.00" width="5.60" height="54.00" fill="#c9c9cc" />
<rect x="104.35" y="147.00" width="5.60" height="24.30" fill="#2c4f95" />
<rect x="104.35" y="171.30" width="5.60" height="5.40" fill="#ad0f3b" />
<text x="108.55" y="145.00" font-size="3.9" text-anchor="start" font-weight="normal" font-style="normal" fill="#1a1a1a" stroke="#1a1a1a" stroke-width="0.1" transform="rotate(-90 108.55 145.00)" >cfDNA</text>
<rect x="111.75" y="147.00" width="5.60" height="54.00" fill="#c9c9cc" />
<rect x="111.75" y="147.00" width="5.60" height="0.81" fill="#2c4f95" />
<rect x="111.75" y="147.81" width="5.60" height="3.78" fill="#ad0f3b" />
<text x="115.95" y="145.00" font-size="3.9" text-anchor="start" font-weight="normal" font-style="normal" fill="#1a1a1a" stroke="#1a1a1a" stroke-width="0.1" transform="rotate(-90 115.95 145.00)" >COSMIC</text>
<text x="110.85" y="205.80" font-size="4.1" text-anchor="middle" font-weight="normal" font-style="italic" fill="#111" stroke="#111" stroke-width="0.1" >TP53</text>
<rect x="125.70" y="147.00" width="5.60" height="54.00" fill="#c9c9cc" />
<rect x="125.70" y="147.00" width="5.60" height="18.36" fill="#6fae45" />
<rect x="125.70" y="165.36" width="5.60" height="8.10" fill="#ad0f3b" />
<text x="129.90" y="145.00" font-size="3.9" text-anchor="start" font-weight="normal" font-style="normal" fill="#1a1a1a" stroke="#1a1a1a" stroke-width="0.1" transform="rotate(-90 129.90 145.00)" >cfDNA</text>
<rect x="133.10" y="147.00" width="5.60" height="54.00" fill="#c9c9cc" />
<rect x="133.10" y="147.00" width="5.60" height="1.08" fill="#4a2a7a" />
<rect x="133.10" y="148.08" width="5.60" height="9.18" fill="#f1c232" />
<rect x="133.10" y="157.26" width="5.60" height="10.80" fill="#ad0f3b" />
<text x="137.30" y="145.00" font-size="3.9" text-anchor="start" font-weight="normal" font-style="normal" fill="#1a1a1a" stroke="#1a1a1a" stroke-width="0.1" transform="rotate(-90 137.30 145.00)" >COSMIC</text>
<text x="132.20" y="205.80" font-size="4.1" text-anchor="middle" font-weight="normal" font-style="italic" fill="#111" stroke="#111" stroke-width="0.1" >CREBBP</text>
<rect x="147.05" y="147.00" width="5.60" height="54.00" fill="#c9c9cc" />
<text x="151.25" y="145.00" font-size="3.9" text-anchor="start" font-weight="normal" font-style="normal" fill="#1a1a1a" stroke="#1a1a1a" stroke-width="0.1" transform="rotate(-90 151.25 145.00)" >cfDNA</text>
<rect x="154.45" y="147.00" width="5.60" height="54.00" fill="#c9c9cc" />
<text x="158.65" y="145.00" font-size="3.9" text-anchor="start" font-weight="normal" font-style="normal" fill="#1a1a1a" stroke="#1a1a1a" stroke-width="0.1" transform="rotate(-90 158.65 145.00)" >COSMIC</text>
<text x="153.55" y="205.80" font-size="4.1" text-anchor="middle" font-weight="normal" font-style="italic" fill="#111" stroke="#111" stroke-width="0.1" >STAT6</text>
<rect x="168.40" y="147.00" width="5.60" height="54.00" fill="#c9c9cc" />
<rect x="168.40" y="147.00" width="5.60" height="32.40" fill="#2c4f95" />
<rect x="168.40" y="179.40" width="5.60" height="21.60" fill="#ad0f3b" />
<text x="172.60" y="145.00" font-size="3.9" text-anchor="start" font-weight="normal" font-style="normal" fill="#1a1a1a" stroke="#1a1a1a" stroke-width="0.1" transform="rotate(-90 172.60 145.00)" >cfDNA</text>
<rect x="175.80" y="147.00" width="5.60" height="54.00" fill="#c9c9cc" />
<rect x="175.80" y="147.00" width="5.60" height="23.76" fill="#2c4f95" />
<rect x="175.80" y="170.76" width="5.60" height="2.70" fill="#f1c232" />
<rect x="175.80" y="173.46" width="5.60" height="10.80" fill="#ad0f3b" />
<text x="180.00" y="145.00" font-size="3.9" text-anchor="start" font-weight="normal" font-style="normal" fill="#1a1a1a" stroke="#1a1a1a" stroke-width="0.1" transform="rotate(-90 180.00 145.00)" >COSMIC</text>
<text x="174.90" y="205.80" font-size="4.1" text-anchor="middle" font-weight="normal" font-style="italic" fill="#111" stroke="#111" stroke-width="0.1" >TNFAIP3</text>
<rect x="189.75" y="147.00" width="5.60" height="54.00" fill="#c9c9cc" />
<rect x="189.75" y="147.00" width="5.60" height="12.96" fill="#2c4f95" />
<rect x="189.75" y="159.96" width="5.60" height="27.00" fill="#ad0f3b" />
<text x="193.95" y="145.00" font-size="3.9" text-anchor="start" font-weight="normal" font-style="normal" fill="#1a1a1a" stroke="#1a1a1a" stroke-width="0.1" transform="rotate(-90 193.95 145.00)" >cfDNA</text>
<rect x="197.15" y="147.00" width="5.60" height="54.00" fill="#c9c9cc" />
<rect x="197.15" y="147.00" width="5.60" height="3.24" fill="#2c4f95" />
<rect x="197.15" y="150.24" width="5.60" height="17.28" fill="#ad0f3b" />
<text x="201.35" y="145.00" font-size="3.9" text-anchor="start" font-weight="normal" font-style="normal" fill="#1a1a1a" stroke="#1a1a1a" stroke-width="0.1" transform="rotate(-90 201.35 145.00)" >COSMIC</text>
<text x="196.25" y="205.80" font-size="4.1" text-anchor="middle" font-weight="normal" font-style="italic" fill="#111" stroke="#111" stroke-width="0.1" >CCND3</text>
<rect x="211.10" y="147.00" width="5.60" height="54.00" fill="#c9c9cc" />
<text x="215.30" y="145.00" font-size="3.9" text-anchor="start" font-weight="normal" font-style="normal" fill="#1a1a1a" stroke="#1a1a1a" stroke-width="0.1" transform="rotate(-90 215.30 145.00)" >cfDNA</text>
<rect x="218.50" y="147.00" width="5.60" height="54.00" fill="#c9c9cc" />
<text x="222.70" y="145.00" font-size="3.9" text-anchor="start" font-weight="normal" font-style="normal" fill="#1a1a1a" stroke="#1a1a1a" stroke-width="0.1" transform="rotate(-90 222.70 145.00)" >COSMIC</text>
<text x="217.60" y="205.80" font-size="4.1" text-anchor="middle" font-weight="normal" font-style="italic" fill="#111" stroke="#111" stroke-width="0.1" >EZH2</text>
<rect x="232.45" y="147.00" width="5.60" height="54.00" fill="#c9c9cc" />
<rect x="232.45" y="147.00" width="5.60" height="13.66" fill="#f1c232" />
<rect x="232.45" y="160.66" width="5.60" height="12.96" fill="#ad0f3b" />
<text x="236.65" y="145.00" font-size="3.9" text-anchor="start" font-weight="normal" font-style="normal" fill="#1a1a1a" stroke="#1a1a1a" stroke-width="0.1" transform="rotate(-90 236.65 145.00)" >cfDNA</text>
<rect x="239.85" y="147.00" width="5.60" height="54.00" fill="#c9c9cc" />
<rect x="239.85" y="147.00" width="5.60" height="4.32" fill="#6fae45" />
<rect x="239.85" y="151.32" width="5.60" height="8.64" fill="#2c4f95" />
<rect x="239.85" y="159.96" width="5.60" height="1.62" fill="#ad0f3b" />
<text x="244.05" y="145.00" font-size="3.9" text-anchor="start" font-weight="normal" font-style="normal" fill="#1a1a1a" stroke="#1a1a1a" stroke-width="0.1" transform="rotate(-90 244.05 145.00)" >COSMIC</text>
<text x="238.95" y="205.80" font-size="4.1" text-anchor="middle" font-weight="normal" font-style="italic" fill="#111" stroke="#111" stroke-width="0.1" >TBL1XR1</text>
<line x1="32.20" y1="146.50" x2="32.20" y2="201.40" stroke="#2a2a2a" stroke-width="0.8"/>
<line x1="32.20" y1="201.00" x2="246.15" y2="201.00" stroke="#2a2a2a" stroke-width="0.8"/>
<line x1="30.90" y1="201.00" x2="32.20" y2="201.00" stroke="#444" stroke-width="0.5"/>
<text x="29.10" y="203.10" font-size="4.3" text-anchor="end" font-weight="normal" font-style="normal" fill="#1a1a1a" stroke="#1a1a1a" stroke-width="0.1" >0%</text>
<line x1="30.90" y1="190.20" x2="32.20" y2="190.20" stroke="#444" stroke-width="0.5"/>
<text x="29.10" y="192.30" font-size="4.3" text-anchor="end" font-weight="normal" font-style="normal" fill="#1a1a1a" stroke="#1a1a1a" stroke-width="0.1" >20%</text>
<line x1="30.90" y1="179.40" x2="32.20" y2="179.40" stroke="#444" stroke-width="0.5"/>
<text x="29.10" y="181.50" font-size="4.3" text-anchor="end" font-weight="normal" font-style="normal" fill="#1a1a1a" stroke="#1a1a1a" stroke-width="0.1" >40%</text>
<line x1="30.90" y1="168.60" x2="32.20" y2="168.60" stroke="#444" stroke-width="0.5"/>
<text x="29.10" y="170.70" font-size="4.3" text-anchor="end" font-weight="normal" font-style="normal" fill="#1a1a1a" stroke="#1a1a1a" stroke-width="0.1" >60%</text>
<line x1="30.90" y1="157.80" x2="32.20" y2="157.80" stroke="#444" stroke-width="0.5"/>
<text x="29.10" y="159.90" font-size="4.3" text-anchor="end" font-weight="normal" font-style="normal" fill="#1a1a1a" stroke="#1a1a1a" stroke-width="0.1" >80%</text>
<line x1="30.90" y1="147.00" x2="32.20" y2="147.00" stroke="#444" stroke-width="0.5"/>
<text x="29.10" y="149.10" font-size="4.3" text-anchor="end" font-weight="normal" font-style="normal" fill="#1a1a1a" stroke="#1a1a1a" stroke-width="0.1" >100%</text>
<text x="15.00" y="172.00" font-size="4.8" text-anchor="middle" font-weight="normal" font-style="normal" fill="#1a1a1a" stroke="#1a1a1a" stroke-width="0.1" transform="rotate(-90 15.00 172.00)" >Mutation frequency (%)</text>
<rect x="66.70" y="212.20" width="3.50" height="4.00" fill="#c9c9cc" />
<text x="71.90" y="215.70" font-size="4.2" text-anchor="start" font-weight="normal" font-style="normal" fill="#1a1a1a" stroke="#1a1a1a" stroke-width="0.1" >missense</text>
<rect x="94.60" y="212.20" width="3.50" height="4.00" fill="#ad0f3b" />
<text x="99.80" y="215.70" font-size="4.2" text-anchor="start" font-weight="normal" font-style="normal" fill="#1a1a1a" stroke="#1a1a1a" stroke-width="0.1" >nonsense</text>
<rect x="123.60" y="212.20" width="3.50" height="4.00" fill="#f1c232" />
<text x="128.80" y="215.70" font-size="4.2" text-anchor="start" font-weight="normal" font-style="normal" fill="#1a1a1a" stroke="#1a1a1a" stroke-width="0.1" >in frame indel</text>
<rect x="160.00" y="212.20" width="3.50" height="4.00" fill="#2c4f95" />
<text x="165.20" y="215.70" font-size="4.2" text-anchor="start" font-weight="normal" font-style="normal" fill="#1a1a1a" stroke="#1a1a1a" stroke-width="0.1" >frameshift</text>
<rect x="188.60" y="212.20" width="3.50" height="4.00" fill="#6fae45" />
<text x="193.80" y="215.70" font-size="4.2" text-anchor="start" font-weight="normal" font-style="normal" fill="#1a1a1a" stroke="#1a1a1a" stroke-width="0.1" >splice site</text>
<text x="271.40" y="133.00" font-size="7.2" text-anchor="start" font-weight="bold" font-style="normal" fill="#111" >E</text>
<rect x="310.00" y="154.00" width="6.00" height="53.50" fill="#c9c9cc" />
<rect x="310.00" y="154.00" width="6.00" height="12.30" fill="#2c4f95" />
<rect x="310.00" y="166.31" width="6.00" height="29.69" fill="#ad0f3b" />
<text x="314.40" y="152.00" font-size="3.9" text-anchor="start" font-weight="normal" font-style="normal" fill="#1a1a1a" stroke="#1a1a1a" stroke-width="0.1" transform="rotate(-90 314.40 152.00)" >cfDNA</text>
<rect x="318.00" y="154.00" width="6.00" height="53.50" fill="#c9c9cc" />
<rect x="318.00" y="154.00" width="6.00" height="5.88" fill="#6fae45" />
<rect x="318.00" y="159.88" width="6.00" height="16.05" fill="#2c4f95" />
<rect x="318.00" y="175.94" width="6.00" height="19.26" fill="#ad0f3b" />
<text x="322.40" y="152.00" font-size="3.9" text-anchor="start" font-weight="normal" font-style="normal" fill="#1a1a1a" stroke="#1a1a1a" stroke-width="0.1" transform="rotate(-90 322.40 152.00)" >COSMIC</text>
<text x="317.00" y="213.00" font-size="4.1" text-anchor="middle" font-weight="normal" font-style="italic" fill="#111" stroke="#111" stroke-width="0.1" >KMT2D</text>
<rect x="335.20" y="154.00" width="6.00" height="53.50" fill="#c9c9cc" />
<rect x="335.20" y="154.00" width="6.00" height="10.38" fill="#f1c232" />
<rect x="335.20" y="164.38" width="6.00" height="10.91" fill="#ad0f3b" />
<text x="339.60" y="152.00" font-size="3.9" text-anchor="start" font-weight="normal" font-style="normal" fill="#1a1a1a" stroke="#1a1a1a" stroke-width="0.1" transform="rotate(-90 339.60 152.00)" >cfDNA</text>
<rect x="343.20" y="154.00" width="6.00" height="53.50" fill="#c9c9cc" />
<rect x="343.20" y="154.00" width="6.00" height="1.60" fill="#4a2a7a" />
<rect x="343.20" y="155.60" width="6.00" height="8.19" fill="#f1c232" />
<rect x="343.20" y="163.79" width="6.00" height="11.50" fill="#ad0f3b" />
<text x="347.60" y="152.00" font-size="3.9" text-anchor="start" font-weight="normal" font-style="normal" fill="#1a1a1a" stroke="#1a1a1a" stroke-width="0.1" transform="rotate(-90 347.60 152.00)" >COSMIC</text>
<text x="342.20" y="213.00" font-size="4.1" text-anchor="middle" font-weight="normal" font-style="italic" fill="#111" stroke="#111" stroke-width="0.1" >CREBBP</text>
<rect x="360.40" y="154.00" width="6.00" height="53.50" fill="#c9c9cc" />
<text x="364.80" y="152.00" font-size="3.9" text-anchor="start" font-weight="normal" font-style="normal" fill="#1a1a1a" stroke="#1a1a1a" stroke-width="0.1" transform="rotate(-90 364.80 152.00)" >cfDNA</text>
<rect x="368.40" y="154.00" width="6.00" height="53.50" fill="#c9c9cc" />
<rect x="368.40" y="154.00" width="6.00" height="1.98" fill="#f1c232" />
<text x="372.80" y="152.00" font-size="3.9" text-anchor="start" font-weight="normal" font-style="normal" fill="#1a1a1a" stroke="#1a1a1a" stroke-width="0.1" transform="rotate(-90 372.80 152.00)" >COSMIC</text>
<text x="367.40" y="213.00" font-size="4.1" text-anchor="middle" font-weight="normal" font-style="italic" fill="#111" stroke="#111" stroke-width="0.1" >HIST1H1E</text>
<rect x="385.60" y="154.00" width="6.00" height="53.50" fill="#c9c9cc" />
<rect x="385.60" y="154.00" width="6.00" height="10.38" fill="#ad0f3b" />
<text x="390.00" y="152.00" font-size="3.9" text-anchor="start" font-weight="normal" font-style="normal" fill="#1a1a1a" stroke="#1a1a1a" stroke-width="0.1" transform="rotate(-90 390.00 152.00)" >cfDNA</text>
<rect x="393.60" y="154.00" width="6.00" height="53.50" fill="#c9c9cc" />
<rect x="393.60" y="154.00" width="6.00" height="4.49" fill="#2c4f95" />
<rect x="393.60" y="158.49" width="6.00" height="1.50" fill="#f1c232" />
<rect x="393.60" y="159.99" width="6.00" height="14.71" fill="#ad0f3b" />
<text x="398.00" y="152.00" font-size="3.9" text-anchor="start" font-weight="normal" font-style="normal" fill="#1a1a1a" stroke="#1a1a1a" stroke-width="0.1" transform="rotate(-90 398.00 152.00)" >COSMIC</text>
<text x="392.60" y="213.00" font-size="4.1" text-anchor="middle" font-weight="normal" font-style="italic" fill="#111" stroke="#111" stroke-width="0.1" >GNA13</text>
<rect x="410.80" y="154.00" width="6.00" height="53.50" fill="#c9c9cc" />
<text x="415.20" y="152.00" font-size="3.9" text-anchor="start" font-weight="normal" font-style="normal" fill="#1a1a1a" stroke="#1a1a1a" stroke-width="0.1" transform="rotate(-90 415.20 152.00)" >cfDNA</text>
<rect x="418.80" y="154.00" width="6.00" height="53.50" fill="#c9c9cc" />
<text x="423.20" y="152.00" font-size="3.9" text-anchor="start" font-weight="normal" font-style="normal" fill="#1a1a1a" stroke="#1a1a1a" stroke-width="0.1" transform="rotate(-90 423.20 152.00)" >COSMIC</text>
<text x="417.80" y="213.00" font-size="4.1" text-anchor="middle" font-weight="normal" font-style="italic" fill="#111" stroke="#111" stroke-width="0.1" >EZH2</text>
<rect x="436.00" y="154.00" width="6.00" height="53.50" fill="#c9c9cc" />
<rect x="436.00" y="154.00" width="6.00" height="13.38" fill="#6fae45" />
<rect x="436.00" y="167.38" width="6.00" height="13.80" fill="#ad0f3b" />
<text x="440.40" y="152.00" font-size="3.9" text-anchor="start" font-weight="normal" font-style="normal" fill="#1a1a1a" stroke="#1a1a1a" stroke-width="0.1" transform="rotate(-90 440.40 152.00)" >cfDNA</text>
<rect x="444.00" y="154.00" width="6.00" height="53.50" fill="#c9c9cc" />
<rect x="444.00" y="154.00" width="6.00" height="14.18" fill="#2c4f95" />
<rect x="444.00" y="168.18" width="6.00" height="3.58" fill="#f1c232" />
<rect x="444.00" y="171.76" width="6.00" height="18.19" fill="#ad0f3b" />
<text x="448.40" y="152.00" font-size="3.9" text-anchor="start" font-weight="normal" font-style="normal" fill="#1a1a1a" stroke="#1a1a1a" stroke-width="0.1" transform="rotate(-90 448.40 152.00)" >COSMIC</text>
<text x="443.00" y="213.00" font-size="4.1" text-anchor="middle" font-weight="normal" font-style="italic" fill="#111" stroke="#111" stroke-width="0.1" >TNFRSF14</text>
<rect x="461.20" y="154.00" width="6.00" height="53.50" fill="#c9c9cc" />
<text x="465.60" y="152.00" font-size="3.9" text-anchor="start" font-weight="normal" font-style="normal" fill="#1a1a1a" stroke="#1a1a1a" stroke-width="0.1" transform="rotate(-90 465.60 152.00)" >cfDNA</text>
<rect x="469.20" y="154.00" width="6.00" height="53.50" fill="#c9c9cc" />
<text x="473.60" y="152.00" font-size="3.9" text-anchor="start" font-weight="normal" font-style="normal" fill="#1a1a1a" stroke="#1a1a1a" stroke-width="0.1" transform="rotate(-90 473.60 152.00)" >COSMIC</text>
<text x="468.20" y="213.00" font-size="4.1" text-anchor="middle" font-weight="normal" font-style="italic" fill="#111" stroke="#111" stroke-width="0.1" >MYD88</text>
<rect x="486.40" y="154.00" width="6.00" height="53.50" fill="#c9c9cc" />
<text x="490.80" y="152.00" font-size="3.9" text-anchor="start" font-weight="normal" font-style="normal" fill="#1a1a1a" stroke="#1a1a1a" stroke-width="0.1" transform="rotate(-90 490.80 152.00)" >cfDNA</text>
<rect x="494.40" y="154.00" width="6.00" height="53.50" fill="#c9c9cc" />
<text x="498.80" y="152.00" font-size="3.9" text-anchor="start" font-weight="normal" font-style="normal" fill="#1a1a1a" stroke="#1a1a1a" stroke-width="0.1" transform="rotate(-90 498.80 152.00)" >COSMIC</text>
<text x="493.40" y="213.00" font-size="4.1" text-anchor="middle" font-weight="normal" font-style="italic" fill="#111" stroke="#111" stroke-width="0.1" >STAT6</text>
<line x1="299.70" y1="153.50" x2="299.70" y2="207.90" stroke="#2a2a2a" stroke-width="0.8"/>
<line x1="299.70" y1="207.50" x2="501.40" y2="207.50" stroke="#2a2a2a" stroke-width="0.8"/>
<line x1="298.40" y1="207.50" x2="299.70" y2="207.50" stroke="#444" stroke-width="0.5"/>
<text x="296.60" y="209.60" font-size="4.3" text-anchor="end" font-weight="normal" font-style="normal" fill="#1a1a1a" stroke="#1a1a1a" stroke-width="0.1" >0%</text>
<line x1="298.40" y1="196.80" x2="299.70" y2="196.80" stroke="#444" stroke-width="0.5"/>
<text x="296.60" y="198.90" font-size="4.3" text-anchor="end" font-weight="normal" font-style="normal" fill="#1a1a1a" stroke="#1a1a1a" stroke-width="0.1" >20%</text>
<line x1="298.40" y1="186.10" x2="299.70" y2="186.10" stroke="#444" stroke-width="0.5"/>
<text x="296.60" y="188.20" font-size="4.3" text-anchor="end" font-weight="normal" font-style="normal" fill="#1a1a1a" stroke="#1a1a1a" stroke-width="0.1" >40%</text>
<line x1="298.40" y1="175.40" x2="299.70" y2="175.40" stroke="#444" stroke-width="0.5"/>
<text x="296.60" y="177.50" font-size="4.3" text-anchor="end" font-weight="normal" font-style="normal" fill="#1a1a1a" stroke="#1a1a1a" stroke-width="0.1" >60%</text>
<line x1="298.40" y1="164.70" x2="299.70" y2="164.70" stroke="#444" stroke-width="0.5"/>
<text x="296.60" y="166.80" font-size="4.3" text-anchor="end" font-weight="normal" font-style="normal" fill="#1a1a1a" stroke="#1a1a1a" stroke-width="0.1" >80%</text>
<line x1="298.40" y1="154.00" x2="299.70" y2="154.00" stroke="#444" stroke-width="0.5"/>
<text x="296.60" y="156.10" font-size="4.3" text-anchor="end" font-weight="normal" font-style="normal" fill="#1a1a1a" stroke="#1a1a1a" stroke-width="0.1" >100%</text>
<text x="282.60" y="178.50" font-size="4.8" text-anchor="middle" font-weight="normal" font-style="normal" fill="#1a1a1a" stroke="#1a1a1a" stroke-width="0.1" transform="rotate(-90 282.60 178.50)" >Mutation frequency (%)</text>
<rect x="327.70" y="219.70" width="3.50" height="4.00" fill="#c9c9cc" />
<text x="332.90" y="223.20" font-size="4.2" text-anchor="start" font-weight="normal" font-style="normal" fill="#1a1a1a" stroke="#1a1a1a" stroke-width="0.1" >missense</text>
<rect x="356.00" y="219.70" width="3.50" height="4.00" fill="#ad0f3b" />
<text x="361.20" y="223.20" font-size="4.2" text-anchor="start" font-weight="normal" font-style="normal" fill="#1a1a1a" stroke="#1a1a1a" stroke-width="0.1" >nonsense</text>
<rect x="385.00" y="219.70" width="3.50" height="4.00" fill="#f1c232" />
<text x="390.20" y="223.20" font-size="4.2" text-anchor="start" font-weight="normal" font-style="normal" fill="#1a1a1a" stroke="#1a1a1a" stroke-width="0.1" >in frame indel</text>
<rect x="420.60" y="219.70" width="3.50" height="4.00" fill="#2c4f95" />
<text x="425.80" y="223.20" font-size="4.2" text-anchor="start" font-weight="normal" font-style="normal" fill="#1a1a1a" stroke="#1a1a1a" stroke-width="0.1" >frameshift</text>
<rect x="449.40" y="219.70" width="3.50" height="4.00" fill="#6fae45" />
<text x="454.60" y="223.20" font-size="4.2" text-anchor="start" font-weight="normal" font-style="normal" fill="#1a1a1a" stroke="#1a1a1a" stroke-width="0.1" >splice site</text>
<text x="3.40" y="230.20" font-size="7.2" text-anchor="start" font-weight="bold" font-style="normal" fill="#111" >C</text>
<text x="271.60" y="238.40" font-size="7.2" text-anchor="start" font-weight="bold" font-style="normal" fill="#111" >F</text>
<text x="69.60" y="235.50" font-size="5.35" text-anchor="middle" font-weight="bold" font-style="normal" fill="#111" stroke="#111" stroke-width="0.1" >KMT2D</text>
<line x1="22.10" y1="238.80" x2="22.10" y2="242.20" stroke="#c4c4c4" stroke-width="0.4"/>
<circle cx="22.10" cy="239.10" r="0.85" fill="#b6aeb2"/>
<line x1="36.60" y1="238.80" x2="36.60" y2="242.20" stroke="#c4c4c4" stroke-width="0.4"/>
<circle cx="36.60" cy="239.10" r="0.85" fill="#b6aeb2"/>
<line x1="38.30" y1="238.80" x2="38.30" y2="242.20" stroke="#c4c4c4" stroke-width="0.4"/>
<circle cx="38.30" cy="239.10" r="0.85" fill="#b6aeb2"/>
<line x1="40.00" y1="238.80" x2="40.00" y2="242.20" stroke="#c4c4c4" stroke-width="0.4"/>
<circle cx="40.00" cy="239.10" r="0.85" fill="#b6aeb2"/>
<line x1="43.40" y1="238.80" x2="43.40" y2="242.20" stroke="#c4c4c4" stroke-width="0.4"/>
<circle cx="43.40" cy="239.10" r="0.85" fill="#b6aeb2"/>
<line x1="64.20" y1="238.80" x2="64.20" y2="242.20" stroke="#c4c4c4" stroke-width="0.4"/>
<circle cx="64.20" cy="239.10" r="0.85" fill="#b6aeb2"/>
<line x1="66.90" y1="238.80" x2="66.90" y2="242.20" stroke="#c4c4c4" stroke-width="0.4"/>
<circle cx="66.90" cy="239.10" r="0.85" fill="#b6aeb2"/>
<line x1="80.60" y1="238.80" x2="80.60" y2="242.20" stroke="#c4c4c4" stroke-width="0.4"/>
<circle cx="80.60" cy="239.10" r="0.85" fill="#b6aeb2"/>
<line x1="89.40" y1="238.80" x2="89.40" y2="242.20" stroke="#c4c4c4" stroke-width="0.4"/>
<circle cx="89.40" cy="239.10" r="0.85" fill="#b6aeb2"/>
<line x1="95.60" y1="238.80" x2="95.60" y2="242.20" stroke="#c4c4c4" stroke-width="0.4"/>
<circle cx="95.60" cy="239.10" r="0.85" fill="#b6aeb2"/>
<line x1="98.00" y1="238.80" x2="98.00" y2="242.20" stroke="#c4c4c4" stroke-width="0.4"/>
<circle cx="98.00" cy="239.10" r="0.85" fill="#b6aeb2"/>
<line x1="107.50" y1="238.80" x2="107.50" y2="242.20" stroke="#c4c4c4" stroke-width="0.4"/>
<circle cx="107.50" cy="239.10" r="0.85" fill="#b6aeb2"/>
<line x1="120.00" y1="238.80" x2="120.00" y2="242.20" stroke="#c4c4c4" stroke-width="0.4"/>
<circle cx="120.00" cy="239.10" r="0.85" fill="#b6aeb2"/>
<rect x="17.00" y="243.12" width="104.60" height="2.35" fill="#d2d2d2" />
<rect x="19.60" y="242.20" width="2.00" height="4.20" fill="#c8b46a" />
<rect x="21.60" y="242.20" width="2.20" height="4.20" fill="#7a6a3a" />
<rect x="42.80" y="242.20" width="2.40" height="4.20" fill="#6e1238" />
<rect x="111.90" y="242.20" width="2.30" height="4.20" fill="#6fae45" />
<rect x="114.20" y="242.20" width="3.00" height="4.20" fill="#c8c040" />
<rect x="119.20" y="242.20" width="2.40" height="4.20" fill="#3a2a6a" />
<line x1="17.00" y1="246.70" x2="121.60" y2="246.70" stroke="#333" stroke-width="0.55"/>
<line x1="17.00" y1="246.70" x2="17.00" y2="247.70" stroke="#444" stroke-width="0.4"/>
<text x="17.00" y="251.60" font-size="3.5" text-anchor="middle" font-weight="normal" font-style="normal" fill="#333" stroke="#333" stroke-width="0.1" >0</text>
<line x1="35.89" y1="246.70" x2="35.89" y2="247.70" stroke="#444" stroke-width="0.4"/>
<text x="35.89" y="251.60" font-size="3.5" text-anchor="middle" font-weight="normal" font-style="normal" fill="#333" stroke="#333" stroke-width="0.1" >1000</text>
<line x1="54.78" y1="246.70" x2="54.78" y2="247.70" stroke="#444" stroke-width="0.4"/>
<text x="54.78" y="251.60" font-size="3.5" text-anchor="middle" font-weight="normal" font-style="normal" fill="#333" stroke="#333" stroke-width="0.1" >2000</text>
<line x1="73.67" y1="246.70" x2="73.67" y2="247.70" stroke="#444" stroke-width="0.4"/>
<text x="73.67" y="251.60" font-size="3.5" text-anchor="middle" font-weight="normal" font-style="normal" fill="#333" stroke="#333" stroke-width="0.1" >3000</text>
<line x1="92.56" y1="246.70" x2="92.56" y2="247.70" stroke="#444" stroke-width="0.4"/>
<text x="92.56" y="251.60" font-size="3.5" text-anchor="middle" font-weight="normal" font-style="normal" fill="#333" stroke="#333" stroke-width="0.1" >4000</text>
<line x1="111.46" y1="246.70" x2="111.46" y2="247.70" stroke="#444" stroke-width="0.4"/>
<text x="111.46" y="251.60" font-size="3.5" text-anchor="middle" font-weight="normal" font-style="normal" fill="#333" stroke="#333" stroke-width="0.1" >5000</text>
<line x1="121.60" y1="246.70" x2="121.60" y2="247.70" stroke="#444" stroke-width="0.4"/>
<text x="121.60" y="251.60" font-size="3.5" text-anchor="middle" font-weight="normal" font-style="normal" fill="#333" stroke="#333" stroke-width="0.1" >5537</text>
<text x="127.49" y="251.60" font-size="3.5" text-anchor="start" font-weight="normal" font-style="normal" fill="#333" stroke="#333" stroke-width="0.1" >aa</text>
<text x="69.60" y="263.40" font-size="5.35" text-anchor="middle" font-weight="bold" font-style="normal" fill="#111" stroke="#111" stroke-width="0.1" >PIM1</text>
<line x1="56.90" y1="266.20" x2="56.90" y2="270.20" stroke="#c4c4c4" stroke-width="0.4"/>
<circle cx="56.90" cy="266.50" r="0.85" fill="#b6aeb2"/>
<line x1="58.10" y1="266.20" x2="58.10" y2="270.20" stroke="#c4c4c4" stroke-width="0.4"/>
<circle cx="58.10" cy="266.50" r="0.85" fill="#b6aeb2"/>
<line x1="61.70" y1="266.20" x2="61.70" y2="270.20" stroke="#c4c4c4" stroke-width="0.4"/>
<circle cx="61.70" cy="266.50" r="0.85" fill="#b6aeb2"/>
<line x1="68.90" y1="266.20" x2="68.90" y2="270.20" stroke="#c4c4c4" stroke-width="0.4"/>
<circle cx="68.90" cy="266.50" r="0.85" fill="#b6aeb2"/>
<line x1="79.70" y1="266.20" x2="79.70" y2="270.20" stroke="#c4c4c4" stroke-width="0.4"/>
<circle cx="79.70" cy="266.50" r="0.85" fill="#b6aeb2"/>
<line x1="84.50" y1="266.20" x2="84.50" y2="270.20" stroke="#c4c4c4" stroke-width="0.4"/>
<circle cx="84.50" cy="266.50" r="0.85" fill="#b6aeb2"/>
<line x1="88.10" y1="266.20" x2="88.10" y2="270.20" stroke="#c4c4c4" stroke-width="0.4"/>
<circle cx="88.10" cy="266.50" r="0.85" fill="#b6aeb2"/>
<line x1="89.30" y1="266.20" x2="89.30" y2="270.20" stroke="#c4c4c4" stroke-width="0.4"/>
<circle cx="89.30" cy="266.50" r="0.85" fill="#b6aeb2"/>
<line x1="103.80" y1="266.20" x2="103.80" y2="270.20" stroke="#c4c4c4" stroke-width="0.4"/>
<circle cx="103.80" cy="266.50" r="0.85" fill="#b6aeb2"/>
<rect x="17.00" y="271.15" width="104.00" height="2.41" fill="#d2d2d2" />
<rect x="50.50" y="270.20" width="65.00" height="4.30" fill="#6fae45" />
<text x="83.00" y="273.10" font-size="2.1" text-anchor="middle" font-weight="normal" font-style="normal" fill="#fff" fill-opacity="0.75">Pkinase</text>
<line x1="17.00" y1="274.80" x2="121.00" y2="274.80" stroke="#333" stroke-width="0.55"/>
<line x1="17.00" y1="274.80" x2="17.00" y2="275.80" stroke="#444" stroke-width="0.4"/>
<text x="17.00" y="279.70" font-size="3.5" text-anchor="middle" font-weight="normal" font-style="normal" fill="#333" stroke="#333" stroke-width="0.1" >0</text>
<line x1="42.74" y1="274.80" x2="42.74" y2="275.80" stroke="#444" stroke-width="0.4"/>
<text x="42.74" y="279.70" font-size="3.5" text-anchor="middle" font-weight="normal" font-style="normal" fill="#333" stroke="#333" stroke-width="0.1" >100</text>
<line x1="68.49" y1="274.80" x2="68.49" y2="275.80" stroke="#444" stroke-width="0.4"/>
<text x="68.49" y="279.70" font-size="3.5" text-anchor="middle" font-weight="normal" font-style="normal" fill="#333" stroke="#333" stroke-width="0.1" >200</text>
<line x1="94.23" y1="274.80" x2="94.23" y2="275.80" stroke="#444" stroke-width="0.4"/>
<text x="94.23" y="279.70" font-size="3.5" text-anchor="middle" font-weight="normal" font-style="normal" fill="#333" stroke="#333" stroke-width="0.1" >300</text>
<line x1="121.00" y1="274.80" x2="121.00" y2="275.80" stroke="#444" stroke-width="0.4"/>
<text x="121.00" y="279.70" font-size="3.5" text-anchor="middle" font-weight="normal" font-style="normal" fill="#333" stroke="#333" stroke-width="0.1" >404</text>
<text x="125.92" y="279.70" font-size="3.5" text-anchor="start" font-weight="normal" font-style="normal" fill="#333" stroke="#333" stroke-width="0.1" >aa</text>
<text x="69.60" y="292.30" font-size="5.35" text-anchor="middle" font-weight="bold" font-style="normal" fill="#111" stroke="#111" stroke-width="0.1" >MYC</text>
<line x1="29.20" y1="295.00" x2="29.20" y2="298.80" stroke="#c4c4c4" stroke-width="0.4"/>
<circle cx="29.20" cy="295.30" r="0.85" fill="#b6aeb2"/>
<line x1="34.50" y1="295.00" x2="34.50" y2="298.80" stroke="#c4c4c4" stroke-width="0.4"/>
<circle cx="34.50" cy="295.30" r="0.85" fill="#b6aeb2"/>
<line x1="39.80" y1="295.00" x2="39.80" y2="298.80" stroke="#c4c4c4" stroke-width="0.4"/>
<circle cx="39.80" cy="295.30" r="0.85" fill="#b6aeb2"/>
<line x1="47.20" y1="295.00" x2="47.20" y2="298.80" stroke="#c4c4c4" stroke-width="0.4"/>
<circle cx="47.20" cy="295.30" r="0.85" fill="#b6aeb2"/>
<line x1="54.50" y1="295.00" x2="54.50" y2="298.80" stroke="#c4c4c4" stroke-width="0.4"/>
<circle cx="54.50" cy="295.30" r="0.85" fill="#b6aeb2"/>
<line x1="62.90" y1="295.00" x2="62.90" y2="298.80" stroke="#c4c4c4" stroke-width="0.4"/>
<circle cx="62.90" cy="295.30" r="0.85" fill="#b6aeb2"/>
<rect x="16.80" y="299.75" width="104.20" height="2.41" fill="#d2d2d2" />
<rect x="16.80" y="298.80" width="83.20" height="4.30" fill="#6fae45" />
<text x="58.40" y="301.70" font-size="2.1" text-anchor="middle" font-weight="normal" font-style="normal" fill="#fff" fill-opacity="0.75">Myc_N</text>
<rect x="101.50" y="298.80" width="12.80" height="4.30" fill="#ad0f3b" />
<text x="107.90" y="301.70" font-size="2.1" text-anchor="middle" font-weight="normal" font-style="normal" fill="#fff" fill-opacity="0.75">HLH</text>
<rect x="114.30" y="298.80" width="6.70" height="4.30" fill="#2c4f95" />
<line x1="16.80" y1="303.40" x2="121.00" y2="303.40" stroke="#333" stroke-width="0.55"/>
<line x1="16.80" y1="303.40" x2="16.80" y2="304.40" stroke="#444" stroke-width="0.4"/>
<text x="16.80" y="308.30" font-size="3.5" text-anchor="middle" font-weight="normal" font-style="normal" fill="#333" stroke="#333" stroke-width="0.1" >0</text>
<line x1="40.54" y1="303.40" x2="40.54" y2="304.40" stroke="#444" stroke-width="0.4"/>
<text x="40.54" y="308.30" font-size="3.5" text-anchor="middle" font-weight="normal" font-style="normal" fill="#333" stroke="#333" stroke-width="0.1" >100</text>
<line x1="64.27" y1="303.40" x2="64.27" y2="304.40" stroke="#444" stroke-width="0.4"/>
<text x="64.27" y="308.30" font-size="3.5" text-anchor="middle" font-weight="normal" font-style="normal" fill="#333" stroke="#333" stroke-width="0.1" >200</text>
<line x1="88.01" y1="303.40" x2="88.01" y2="304.40" stroke="#444" stroke-width="0.4"/>
<text x="88.01" y="308.30" font-size="3.5" text-anchor="middle" font-weight="normal" font-style="normal" fill="#333" stroke="#333" stroke-width="0.1" >300</text>
<line x1="111.74" y1="303.40" x2="111.74" y2="304.40" stroke="#444" stroke-width="0.4"/>
<text x="111.74" y="308.30" font-size="3.5" text-anchor="middle" font-weight="normal" font-style="normal" fill="#333" stroke="#333" stroke-width="0.1" >400</text>
<line x1="121.00" y1="303.40" x2="121.00" y2="304.40" stroke="#444" stroke-width="0.4"/>
<text x="121.00" y="308.30" font-size="3.5" text-anchor="middle" font-weight="normal" font-style="normal" fill="#333" stroke="#333" stroke-width="0.1" >439</text>
<text x="125.92" y="308.30" font-size="3.5" text-anchor="start" font-weight="normal" font-style="normal" fill="#333" stroke="#333" stroke-width="0.1" >aa</text>
<text x="69.60" y="320.30" font-size="5.35" text-anchor="middle" font-weight="bold" font-style="normal" fill="#111" stroke="#111" stroke-width="0.1" >TP53</text>
<line x1="34.80" y1="323.00" x2="34.80" y2="326.60" stroke="#c4c4c4" stroke-width="0.4"/>
<circle cx="34.80" cy="323.30" r="0.85" fill="#b6aeb2"/>
<line x1="41.30" y1="323.00" x2="41.30" y2="326.60" stroke="#c4c4c4" stroke-width="0.4"/>
<circle cx="41.30" cy="323.30" r="0.85" fill="#b6aeb2"/>
<line x1="59.30" y1="323.00" x2="59.30" y2="326.60" stroke="#c4c4c4" stroke-width="0.4"/>
<circle cx="59.30" cy="323.30" r="0.85" fill="#b6aeb2"/>
<line x1="80.90" y1="323.00" x2="80.90" y2="326.60" stroke="#c4c4c4" stroke-width="0.4"/>
<circle cx="80.90" cy="323.30" r="0.85" fill="#b6aeb2"/>
<line x1="83.30" y1="323.00" x2="83.30" y2="326.60" stroke="#c4c4c4" stroke-width="0.4"/>
<circle cx="83.30" cy="323.30" r="0.85" fill="#b6aeb2"/>
<line x1="93.00" y1="323.00" x2="93.00" y2="326.60" stroke="#c4c4c4" stroke-width="0.4"/>
<circle cx="93.00" cy="323.30" r="0.85" fill="#b6aeb2"/>
<line x1="99.00" y1="323.00" x2="99.00" y2="326.60" stroke="#c4c4c4" stroke-width="0.4"/>
<circle cx="99.00" cy="323.30" r="0.85" fill="#b6aeb2"/>
<line x1="102.00" y1="323.00" x2="102.00" y2="326.60" stroke="#c4c4c4" stroke-width="0.4"/>
<circle cx="102.00" cy="323.30" r="0.85" fill="#b6aeb2"/>
<rect x="17.00" y="327.66" width="104.00" height="2.69" fill="#d2d2d2" />
<rect x="17.60" y="326.60" width="6.80" height="4.80" fill="#6fae45" />
<text x="21.00" y="329.75" font-size="2.1" text-anchor="middle" font-weight="normal" font-style="normal" fill="#fff" fill-opacity="0.75">TAD</text>
<rect x="42.20" y="326.60" width="51.50" height="4.80" fill="#ad0f3b" />
<text x="67.95" y="329.75" font-size="2.1" text-anchor="middle" font-weight="normal" font-style="normal" fill="#fff" fill-opacity="0.75">P53</text>
<rect x="101.80" y="326.60" width="10.50" height="4.80" fill="#2c4f95" />
<text x="107.05" y="329.75" font-size="2.1" text-anchor="middle" font-weight="normal" font-style="normal" fill="#fff" fill-opacity="0.75">P53_tet</text>
<line x1="17.00" y1="331.70" x2="121.00" y2="331.70" stroke="#333" stroke-width="0.55"/>
<line x1="17.00" y1="331.70" x2="17.00" y2="332.70" stroke="#444" stroke-width="0.4"/>
<text x="17.00" y="336.60" font-size="3.5" text-anchor="middle" font-weight="normal" font-style="normal" fill="#333" stroke="#333" stroke-width="0.1" >0</text>
<line x1="43.46" y1="331.70" x2="43.46" y2="332.70" stroke="#444" stroke-width="0.4"/>
<text x="43.46" y="336.60" font-size="3.5" text-anchor="middle" font-weight="normal" font-style="normal" fill="#333" stroke="#333" stroke-width="0.1" >100</text>
<line x1="69.93" y1="331.70" x2="69.93" y2="332.70" stroke="#444" stroke-width="0.4"/>
<text x="69.93" y="336.60" font-size="3.5" text-anchor="middle" font-weight="normal" font-style="normal" fill="#333" stroke="#333" stroke-width="0.1" >200</text>
<line x1="96.39" y1="331.70" x2="96.39" y2="332.70" stroke="#444" stroke-width="0.4"/>
<text x="96.39" y="336.60" font-size="3.5" text-anchor="middle" font-weight="normal" font-style="normal" fill="#333" stroke="#333" stroke-width="0.1" >300</text>
<line x1="121.00" y1="331.70" x2="121.00" y2="332.70" stroke="#444" stroke-width="0.4"/>
<text x="121.00" y="336.60" font-size="3.5" text-anchor="middle" font-weight="normal" font-style="normal" fill="#333" stroke="#333" stroke-width="0.1" >393</text>
<text x="125.92" y="336.60" font-size="3.5" text-anchor="start" font-weight="normal" font-style="normal" fill="#333" stroke="#333" stroke-width="0.1" >aa</text>
<text x="68.60" y="347.80" font-size="5.35" text-anchor="middle" font-weight="bold" font-style="normal" fill="#111" stroke="#111" stroke-width="0.1" >CREBBP</text>
<line x1="63.40" y1="355.50" x2="63.40" y2="360.00" stroke="#c4c4c4" stroke-width="0.4"/>
<circle cx="63.40" cy="355.80" r="0.85" fill="#b6aeb2"/>
<line x1="73.00" y1="355.50" x2="73.00" y2="360.00" stroke="#c4c4c4" stroke-width="0.4"/>
<circle cx="73.00" cy="355.80" r="0.85" fill="#b6aeb2"/>
<line x1="79.20" y1="355.50" x2="79.20" y2="360.00" stroke="#c4c4c4" stroke-width="0.4"/>
<circle cx="79.20" cy="355.80" r="0.85" fill="#b6aeb2"/>
<line x1="88.10" y1="355.50" x2="88.10" y2="360.00" stroke="#c4c4c4" stroke-width="0.4"/>
<circle cx="88.10" cy="355.80" r="0.85" fill="#b6aeb2"/>
<line x1="102.50" y1="355.50" x2="102.50" y2="360.00" stroke="#c4c4c4" stroke-width="0.4"/>
<circle cx="102.50" cy="355.80" r="0.85" fill="#b6aeb2"/>
<rect x="17.00" y="360.84" width="104.00" height="2.13" fill="#d2d2d2" />
<rect x="32.20" y="360.00" width="3.00" height="3.80" fill="#6fae45" />
<rect x="42.00" y="360.00" width="4.10" height="3.80" fill="#ad0f3b" />
<rect x="63.40" y="360.00" width="3.60" height="3.80" fill="#2c4f95" />
<rect x="67.70" y="360.00" width="3.60" height="3.80" fill="#f1c232" />
<rect x="73.70" y="360.00" width="14.40" height="3.80" fill="#4a2a7a" />
<text x="80.90" y="362.65" font-size="2.1" text-anchor="middle" font-weight="normal" font-style="normal" fill="#fff" fill-opacity="0.75">HAT_KAT11</text>
<rect x="88.80" y="360.00" width="2.20" height="3.80" fill="#f1c232" />
<rect x="92.20" y="360.00" width="3.90" height="3.80" fill="#6fae45" />
<rect x="103.30" y="360.00" width="4.10" height="3.80" fill="#c0157a" />
<line x1="17.00" y1="364.10" x2="121.00" y2="364.10" stroke="#333" stroke-width="0.55"/>
<line x1="17.00" y1="364.10" x2="17.00" y2="365.10" stroke="#444" stroke-width="0.4"/>
<text x="17.00" y="369.80" font-size="3.5" text-anchor="middle" font-weight="normal" font-style="normal" fill="#333" stroke="#333" stroke-width="0.1" >0</text>
<line x1="34.04" y1="364.10" x2="34.04" y2="365.10" stroke="#444" stroke-width="0.4"/>
<text x="34.04" y="369.80" font-size="3.5" text-anchor="middle" font-weight="normal" font-style="normal" fill="#333" stroke="#333" stroke-width="0.1" >400</text>
<line x1="51.07" y1="364.10" x2="51.07" y2="365.10" stroke="#444" stroke-width="0.4"/>
<text x="51.07" y="369.80" font-size="3.5" text-anchor="middle" font-weight="normal" font-style="normal" fill="#333" stroke="#333" stroke-width="0.1" >800</text>
<line x1="68.11" y1="364.10" x2="68.11" y2="365.10" stroke="#444" stroke-width="0.4"/>
<text x="68.11" y="369.80" font-size="3.5" text-anchor="middle" font-weight="normal" font-style="normal" fill="#333" stroke="#333" stroke-width="0.1" >1200</text>
<line x1="85.14" y1="364.10" x2="85.14" y2="365.10" stroke="#444" stroke-width="0.4"/>
<text x="85.14" y="369.80" font-size="3.5" text-anchor="middle" font-weight="normal" font-style="normal" fill="#333" stroke="#333" stroke-width="0.1" >1600</text>
<line x1="102.18" y1="364.10" x2="102.18" y2="365.10" stroke="#444" stroke-width="0.4"/>
<text x="102.18" y="369.80" font-size="3.5" text-anchor="middle" font-weight="normal" font-style="normal" fill="#333" stroke="#333" stroke-width="0.1" >2000</text>
<line x1="121.00" y1="364.10" x2="121.00" y2="365.10" stroke="#444" stroke-width="0.4"/>
<text x="121.00" y="369.80" font-size="3.5" text-anchor="middle" font-weight="normal" font-style="normal" fill="#333" stroke="#333" stroke-width="0.1" >2442</text>
<text x="126.89" y="369.80" font-size="3.5" text-anchor="start" font-weight="normal" font-style="normal" fill="#333" stroke="#333" stroke-width="0.1" >aa</text>
<text x="79.50" y="352.00" font-size="2.7" text-anchor="middle" font-weight="normal" font-style="normal" fill="#444" stroke="#444" stroke-width="0.1" >R1446H</text>
<text x="190.00" y="234.90" font-size="5.35" text-anchor="middle" font-weight="bold" font-style="normal" fill="#111" stroke="#111" stroke-width="0.1" >STAT6</text>
<line x1="183.00" y1="238.00" x2="183.00" y2="242.00" stroke="#c4c4c4" stroke-width="0.4"/>
<circle cx="183.00" cy="238.30" r="0.85" fill="#b6aeb2"/>
<line x1="192.00" y1="238.00" x2="192.00" y2="242.00" stroke="#c4c4c4" stroke-width="0.4"/>
<circle cx="192.00" cy="238.30" r="0.85" fill="#b6aeb2"/>
<line x1="217.00" y1="238.00" x2="217.00" y2="242.00" stroke="#c4c4c4" stroke-width="0.4"/>
<circle cx="217.00" cy="238.30" r="0.85" fill="#b6aeb2"/>
<rect x="136.80" y="243.06" width="105.70" height="2.69" fill="#d2d2d2" />
<rect x="136.80" y="242.00" width="14.50" height="4.80" fill="#6fae45" />
<text x="144.05" y="245.15" font-size="2.1" text-anchor="middle" font-weight="normal" font-style="normal" fill="#fff" fill-opacity="0.75">STAT_int</text>
<rect x="158.80" y="242.00" width="12.50" height="4.80" fill="#ad0f3b" />
<text x="165.05" y="245.15" font-size="2.1" text-anchor="middle" font-weight="normal" font-style="normal" fill="#fff" fill-opacity="0.75">STAT_alpha</text>
<rect x="172.00" y="242.00" width="30.00" height="4.80" fill="#2c4f95" />
<text x="187.00" y="245.15" font-size="2.1" text-anchor="middle" font-weight="normal" font-style="normal" fill="#fff" fill-opacity="0.75">STAT_bind</text>
<rect x="202.50" y="242.00" width="13.80" height="4.80" fill="#f1c232" />
<text x="209.40" y="245.15" font-size="2.1" text-anchor="middle" font-weight="normal" font-style="normal" fill="#fff" fill-opacity="0.75">SH2</text>
<rect x="218.00" y="242.00" width="24.00" height="4.80" fill="#4a2a7a" />
<text x="230.00" y="245.15" font-size="2.1" text-anchor="middle" font-weight="normal" font-style="normal" fill="#fff" fill-opacity="0.75">STAT6_C</text>
<line x1="136.80" y1="247.10" x2="242.50" y2="247.10" stroke="#333" stroke-width="0.55"/>
<line x1="136.80" y1="247.10" x2="136.80" y2="248.10" stroke="#444" stroke-width="0.4"/>
<text x="136.80" y="252.00" font-size="3.5" text-anchor="middle" font-weight="normal" font-style="normal" fill="#333" stroke="#333" stroke-width="0.1" >0</text>
<line x1="161.76" y1="247.10" x2="161.76" y2="248.10" stroke="#444" stroke-width="0.4"/>
<text x="161.76" y="252.00" font-size="3.5" text-anchor="middle" font-weight="normal" font-style="normal" fill="#333" stroke="#333" stroke-width="0.1" >200</text>
<line x1="186.72" y1="247.10" x2="186.72" y2="248.10" stroke="#444" stroke-width="0.4"/>
<text x="186.72" y="252.00" font-size="3.5" text-anchor="middle" font-weight="normal" font-style="normal" fill="#333" stroke="#333" stroke-width="0.1" >400</text>
<line x1="211.68" y1="247.10" x2="211.68" y2="248.10" stroke="#444" stroke-width="0.4"/>
<text x="211.68" y="252.00" font-size="3.5" text-anchor="middle" font-weight="normal" font-style="normal" fill="#333" stroke="#333" stroke-width="0.1" >600</text>
<line x1="242.50" y1="247.10" x2="242.50" y2="248.10" stroke="#444" stroke-width="0.4"/>
<text x="242.50" y="252.00" font-size="3.5" text-anchor="middle" font-weight="normal" font-style="normal" fill="#333" stroke="#333" stroke-width="0.1" >847</text>
<text x="247.42" y="252.00" font-size="3.5" text-anchor="start" font-weight="normal" font-style="normal" fill="#333" stroke="#333" stroke-width="0.1" >aa</text>
<text x="190.00" y="263.30" font-size="5.35" text-anchor="middle" font-weight="bold" font-style="normal" fill="#111" stroke="#111" stroke-width="0.1" >TNFAIP3</text>
<line x1="174.50" y1="266.50" x2="174.50" y2="270.60" stroke="#c4c4c4" stroke-width="0.4"/>
<circle cx="174.50" cy="266.80" r="0.85" fill="#b6aeb2"/>
<line x1="182.50" y1="266.50" x2="182.50" y2="270.60" stroke="#c4c4c4" stroke-width="0.4"/>
<circle cx="182.50" cy="266.80" r="0.85" fill="#b6aeb2"/>
<line x1="192.00" y1="266.50" x2="192.00" y2="270.60" stroke="#c4c4c4" stroke-width="0.4"/>
<circle cx="192.00" cy="266.80" r="0.85" fill="#b6aeb2"/>
<line x1="195.50" y1="266.50" x2="195.50" y2="270.60" stroke="#c4c4c4" stroke-width="0.4"/>
<circle cx="195.50" cy="266.80" r="0.85" fill="#b6aeb2"/>
<line x1="207.50" y1="266.50" x2="207.50" y2="270.60" stroke="#c4c4c4" stroke-width="0.4"/>
<circle cx="207.50" cy="266.80" r="0.85" fill="#b6aeb2"/>
<rect x="137.00" y="271.52" width="104.50" height="2.35" fill="#d2d2d2" />
<rect x="150.00" y="270.60" width="21.30" height="4.20" fill="#6fae45" />
<text x="160.65" y="273.45" font-size="2.1" text-anchor="middle" font-weight="normal" font-style="normal" fill="#fff" fill-opacity="0.75">OTU</text>
<rect x="188.00" y="270.60" width="3.50" height="4.20" fill="#ad0f3b" />
<text x="189.75" y="273.45" font-size="2.1" text-anchor="middle" font-weight="normal" font-style="normal" fill="#fff" fill-opacity="0.75">Z</text>
<rect x="200.50" y="270.60" width="3.50" height="4.20" fill="#ad0f3b" />
<text x="202.25" y="273.45" font-size="2.1" text-anchor="middle" font-weight="normal" font-style="normal" fill="#fff" fill-opacity="0.75">Z</text>
<rect x="223.80" y="270.60" width="3.20" height="4.20" fill="#ad0f3b" />
<text x="225.40" y="273.45" font-size="2.1" text-anchor="middle" font-weight="normal" font-style="normal" fill="#fff" fill-opacity="0.75">Z</text>
<rect x="237.50" y="270.60" width="3.50" height="4.20" fill="#ad0f3b" />
<text x="239.25" y="273.45" font-size="2.1" text-anchor="middle" font-weight="normal" font-style="normal" fill="#fff" fill-opacity="0.75">Z</text>
<line x1="137.00" y1="275.10" x2="241.50" y2="275.10" stroke="#333" stroke-width="0.55"/>
<line x1="137.00" y1="275.10" x2="137.00" y2="276.10" stroke="#444" stroke-width="0.4"/>
<text x="137.00" y="280.00" font-size="3.5" text-anchor="middle" font-weight="normal" font-style="normal" fill="#333" stroke="#333" stroke-width="0.1" >0</text>
<line x1="163.46" y1="275.10" x2="163.46" y2="276.10" stroke="#444" stroke-width="0.4"/>
<text x="163.46" y="280.00" font-size="3.5" text-anchor="middle" font-weight="normal" font-style="normal" fill="#333" stroke="#333" stroke-width="0.1" >200</text>
<line x1="189.91" y1="275.10" x2="189.91" y2="276.10" stroke="#444" stroke-width="0.4"/>
<text x="189.91" y="280.00" font-size="3.5" text-anchor="middle" font-weight="normal" font-style="normal" fill="#333" stroke="#333" stroke-width="0.1" >400</text>
<line x1="216.37" y1="275.10" x2="216.37" y2="276.10" stroke="#444" stroke-width="0.4"/>
<text x="216.37" y="280.00" font-size="3.5" text-anchor="middle" font-weight="normal" font-style="normal" fill="#333" stroke="#333" stroke-width="0.1" >600</text>
<line x1="241.50" y1="275.10" x2="241.50" y2="276.10" stroke="#444" stroke-width="0.4"/>
<text x="241.50" y="280.00" font-size="3.5" text-anchor="middle" font-weight="normal" font-style="normal" fill="#333" stroke="#333" stroke-width="0.1" >790</text>
<text x="246.42" y="280.00" font-size="3.5" text-anchor="start" font-weight="normal" font-style="normal" fill="#333" stroke="#333" stroke-width="0.1" >aa</text>
<text x="190.00" y="292.30" font-size="5.35" text-anchor="middle" font-weight="bold" font-style="normal" fill="#111" stroke="#111" stroke-width="0.1" >CCND3</text>
<line x1="240.50" y1="295.00" x2="240.50" y2="298.80" stroke="#c4c4c4" stroke-width="0.4"/>
<circle cx="240.50" cy="295.30" r="0.85" fill="#b6aeb2"/>
<rect x="137.50" y="299.66" width="103.00" height="2.18" fill="#d2d2d2" />
<rect x="147.00" y="298.80" width="45.30" height="3.90" fill="#6fae45" />
<text x="169.65" y="301.50" font-size="2.1" text-anchor="middle" font-weight="normal" font-style="normal" fill="#fff" fill-opacity="0.75">Cyclin_N</text>
<rect x="192.80" y="298.80" width="44.70" height="3.90" fill="#ad0f3b" />
<text x="215.15" y="301.50" font-size="2.1" text-anchor="middle" font-weight="normal" font-style="normal" fill="#fff" fill-opacity="0.75">Cyclin_C</text>
<line x1="137.50" y1="303.00" x2="240.50" y2="303.00" stroke="#333" stroke-width="0.55"/>
<line x1="137.50" y1="303.00" x2="137.50" y2="304.00" stroke="#444" stroke-width="0.4"/>
<text x="137.50" y="307.90" font-size="3.5" text-anchor="middle" font-weight="normal" font-style="normal" fill="#333" stroke="#333" stroke-width="0.1" >0</text>
<line x1="172.77" y1="303.00" x2="172.77" y2="304.00" stroke="#444" stroke-width="0.4"/>
<text x="172.77" y="307.90" font-size="3.5" text-anchor="middle" font-weight="normal" font-style="normal" fill="#333" stroke="#333" stroke-width="0.1" >100</text>
<line x1="208.05" y1="303.00" x2="208.05" y2="304.00" stroke="#444" stroke-width="0.4"/>
<text x="208.05" y="307.90" font-size="3.5" text-anchor="middle" font-weight="normal" font-style="normal" fill="#333" stroke="#333" stroke-width="0.1" >200</text>
<line x1="240.50" y1="303.00" x2="240.50" y2="304.00" stroke="#444" stroke-width="0.4"/>
<text x="240.50" y="307.90" font-size="3.5" text-anchor="middle" font-weight="normal" font-style="normal" fill="#333" stroke="#333" stroke-width="0.1" >292</text>
<text x="245.42" y="307.90" font-size="3.5" text-anchor="start" font-weight="normal" font-style="normal" fill="#333" stroke="#333" stroke-width="0.1" >aa</text>
<text x="235.70" y="295.40" font-size="2.7" text-anchor="middle" font-weight="normal" font-style="normal" fill="#444" stroke="#444" stroke-width="0.1" >T283</text>
<text x="190.00" y="320.30" font-size="5.35" text-anchor="middle" font-weight="bold" font-style="normal" fill="#111" stroke="#111" stroke-width="0.1" >EZH2</text>
<line x1="227.80" y1="322.30" x2="227.80" y2="326.50" stroke="#c4c4c4" stroke-width="0.4"/>
<circle cx="227.80" cy="322.60" r="0.85" fill="#b6aeb2"/>
<line x1="233.80" y1="322.30" x2="233.80" y2="326.50" stroke="#c4c4c4" stroke-width="0.4"/>
<circle cx="233.80" cy="322.60" r="0.85" fill="#b6aeb2"/>
<rect x="137.50" y="327.34" width="103.00" height="2.13" fill="#d2d2d2" />
<rect x="142.60" y="326.50" width="3.70" height="3.80" fill="#6fae45" />
<rect x="224.00" y="326.50" width="15.30" height="3.80" fill="#ad0f3b" />
<text x="231.65" y="329.15" font-size="2.1" text-anchor="middle" font-weight="normal" font-style="normal" fill="#fff" fill-opacity="0.75">SET</text>
<line x1="137.50" y1="330.60" x2="240.50" y2="330.60" stroke="#333" stroke-width="0.55"/>
<line x1="137.50" y1="330.60" x2="137.50" y2="331.60" stroke="#444" stroke-width="0.4"/>
<text x="137.50" y="335.50" font-size="3.5" text-anchor="middle" font-weight="normal" font-style="normal" fill="#333" stroke="#333" stroke-width="0.1" >0</text>
<line x1="165.11" y1="330.60" x2="165.11" y2="331.60" stroke="#444" stroke-width="0.4"/>
<text x="165.11" y="335.50" font-size="3.5" text-anchor="middle" font-weight="normal" font-style="normal" fill="#333" stroke="#333" stroke-width="0.1" >200</text>
<line x1="192.73" y1="330.60" x2="192.73" y2="331.60" stroke="#444" stroke-width="0.4"/>
<text x="192.73" y="335.50" font-size="3.5" text-anchor="middle" font-weight="normal" font-style="normal" fill="#333" stroke="#333" stroke-width="0.1" >400</text>
<line x1="220.34" y1="330.60" x2="220.34" y2="331.60" stroke="#444" stroke-width="0.4"/>
<text x="220.34" y="335.50" font-size="3.5" text-anchor="middle" font-weight="normal" font-style="normal" fill="#333" stroke="#333" stroke-width="0.1" >600</text>
<line x1="240.50" y1="330.60" x2="240.50" y2="331.60" stroke="#444" stroke-width="0.4"/>
<text x="240.50" y="335.50" font-size="3.5" text-anchor="middle" font-weight="normal" font-style="normal" fill="#333" stroke="#333" stroke-width="0.1" >746</text>
<text x="245.42" y="335.50" font-size="3.5" text-anchor="start" font-weight="normal" font-style="normal" fill="#333" stroke="#333" stroke-width="0.1" >aa</text>
<text x="227.20" y="315.00" font-size="2.7" text-anchor="middle" font-weight="normal" font-style="normal" fill="#444" stroke="#444" stroke-width="0.1" >Y646F/N</text>
<text x="190.30" y="347.80" font-size="5.35" text-anchor="middle" font-weight="bold" font-style="normal" fill="#111" stroke="#111" stroke-width="0.1" >TBL1XR1</text>
<line x1="176.00" y1="355.50" x2="176.00" y2="360.00" stroke="#c4c4c4" stroke-width="0.4"/>
<circle cx="176.00" cy="355.80" r="0.85" fill="#b6aeb2"/>
<line x1="180.80" y1="355.50" x2="180.80" y2="360.00" stroke="#c4c4c4" stroke-width="0.4"/>
<circle cx="180.80" cy="355.80" r="0.85" fill="#b6aeb2"/>
<line x1="202.90" y1="355.50" x2="202.90" y2="360.00" stroke="#c4c4c4" stroke-width="0.4"/>
<circle cx="202.90" cy="355.80" r="0.85" fill="#b6aeb2"/>
<rect x="137.50" y="360.79" width="103.00" height="2.02" fill="#d2d2d2" />
<rect x="137.50" y="360.00" width="6.30" height="3.60" fill="#6fae45" />
<rect x="169.70" y="360.00" width="7.50" height="3.60" fill="#ad0f3b" />
<text x="173.45" y="362.55" font-size="2.1" text-anchor="middle" font-weight="normal" font-style="normal" fill="#fff" fill-opacity="0.75">WD40</text>
<rect x="181.50" y="360.00" width="7.50" height="3.60" fill="#ad0f3b" />
<text x="185.25" y="362.55" font-size="2.1" text-anchor="middle" font-weight="normal" font-style="normal" fill="#fff" fill-opacity="0.75">WD40</text>
<rect x="189.80" y="360.00" width="7.50" height="3.60" fill="#ad0f3b" />
<text x="193.55" y="362.55" font-size="2.1" text-anchor="middle" font-weight="normal" font-style="normal" fill="#fff" fill-opacity="0.75">WD40</text>
<rect x="206.60" y="360.00" width="7.60" height="3.60" fill="#ad0f3b" />
<text x="210.40" y="362.55" font-size="2.1" text-anchor="middle" font-weight="normal" font-style="normal" fill="#fff" fill-opacity="0.75">WD40</text>
<rect x="215.00" y="360.00" width="7.50" height="3.60" fill="#ad0f3b" />
<text x="218.75" y="362.55" font-size="2.1" text-anchor="middle" font-weight="normal" font-style="normal" fill="#fff" fill-opacity="0.75">WD40</text>
<rect x="225.50" y="360.00" width="7.50" height="3.60" fill="#ad0f3b" />
<text x="229.25" y="362.55" font-size="2.1" text-anchor="middle" font-weight="normal" font-style="normal" fill="#fff" fill-opacity="0.75">WD40</text>
<line x1="137.50" y1="363.90" x2="240.50" y2="363.90" stroke="#333" stroke-width="0.55"/>
<line x1="137.50" y1="363.90" x2="137.50" y2="364.90" stroke="#444" stroke-width="0.4"/>
<text x="137.50" y="369.60" font-size="3.5" text-anchor="middle" font-weight="normal" font-style="normal" fill="#333" stroke="#333" stroke-width="0.1" >0</text>
<line x1="157.54" y1="363.90" x2="157.54" y2="364.90" stroke="#444" stroke-width="0.4"/>
<text x="157.54" y="369.60" font-size="3.5" text-anchor="middle" font-weight="normal" font-style="normal" fill="#333" stroke="#333" stroke-width="0.1" >100</text>
<line x1="177.58" y1="363.90" x2="177.58" y2="364.90" stroke="#444" stroke-width="0.4"/>
<text x="177.58" y="369.60" font-size="3.5" text-anchor="middle" font-weight="normal" font-style="normal" fill="#333" stroke="#333" stroke-width="0.1" >200</text>
<line x1="197.62" y1="363.90" x2="197.62" y2="364.90" stroke="#444" stroke-width="0.4"/>
<text x="197.62" y="369.60" font-size="3.5" text-anchor="middle" font-weight="normal" font-style="normal" fill="#333" stroke="#333" stroke-width="0.1" >300</text>
<line x1="217.66" y1="363.90" x2="217.66" y2="364.90" stroke="#444" stroke-width="0.4"/>
<text x="217.66" y="369.60" font-size="3.5" text-anchor="middle" font-weight="normal" font-style="normal" fill="#333" stroke="#333" stroke-width="0.1" >400</text>
<line x1="240.50" y1="363.90" x2="240.50" y2="364.90" stroke="#444" stroke-width="0.4"/>
<text x="240.50" y="369.60" font-size="3.5" text-anchor="middle" font-weight="normal" font-style="normal" fill="#333" stroke="#333" stroke-width="0.1" >514</text>
<text x="245.42" y="369.60" font-size="3.5" text-anchor="start" font-weight="normal" font-style="normal" fill="#333" stroke="#333" stroke-width="0.1" >aa</text>
<text x="333.20" y="248.50" font-size="5.35" text-anchor="middle" font-weight="bold" font-style="normal" fill="#111" stroke="#111" stroke-width="0.1" >KMT2D</text>
<line x1="317.00" y1="252.00" x2="317.00" y2="256.00" stroke="#c4c4c4" stroke-width="0.4"/>
<circle cx="317.00" cy="252.30" r="0.85" fill="#b6aeb2"/>
<line x1="335.50" y1="252.00" x2="335.50" y2="256.00" stroke="#c4c4c4" stroke-width="0.4"/>
<circle cx="335.50" cy="252.30" r="0.85" fill="#b6aeb2"/>
<line x1="338.80" y1="252.00" x2="338.80" y2="256.00" stroke="#c4c4c4" stroke-width="0.4"/>
<circle cx="338.80" cy="252.30" r="0.85" fill="#b6aeb2"/>
<line x1="342.00" y1="252.00" x2="342.00" y2="256.00" stroke="#c4c4c4" stroke-width="0.4"/>
<circle cx="342.00" cy="252.30" r="0.85" fill="#b6aeb2"/>
<line x1="350.00" y1="252.00" x2="350.00" y2="256.00" stroke="#c4c4c4" stroke-width="0.4"/>
<circle cx="350.00" cy="252.30" r="0.85" fill="#b6aeb2"/>
<line x1="360.00" y1="252.00" x2="360.00" y2="256.00" stroke="#c4c4c4" stroke-width="0.4"/>
<circle cx="360.00" cy="252.30" r="0.85" fill="#b6aeb2"/>
<line x1="373.00" y1="252.00" x2="373.00" y2="256.00" stroke="#c4c4c4" stroke-width="0.4"/>
<circle cx="373.00" cy="252.30" r="0.85" fill="#b6aeb2"/>
<line x1="376.30" y1="252.00" x2="376.30" y2="256.00" stroke="#c4c4c4" stroke-width="0.4"/>
<circle cx="376.30" cy="252.30" r="0.85" fill="#b6aeb2"/>
<line x1="380.00" y1="252.00" x2="380.00" y2="256.00" stroke="#c4c4c4" stroke-width="0.4"/>
<circle cx="380.00" cy="252.30" r="0.85" fill="#b6aeb2"/>
<rect x="280.00" y="256.88" width="105.00" height="2.24" fill="#d2d2d2" />
<rect x="282.50" y="256.00" width="2.30" height="4.00" fill="#c8b46a" />
<rect x="284.80" y="256.00" width="2.00" height="4.00" fill="#7a6a3a" />
<rect x="306.00" y="256.00" width="2.80" height="4.00" fill="#6e1238" />
<rect x="375.50" y="256.00" width="2.50" height="4.00" fill="#6fae45" />
<rect x="378.00" y="256.00" width="2.50" height="4.00" fill="#c8c040" />
<rect x="382.50" y="256.00" width="2.50" height="4.00" fill="#3a2a6a" />
<line x1="280.00" y1="260.30" x2="385.00" y2="260.30" stroke="#333" stroke-width="0.55"/>
<line x1="280.00" y1="260.30" x2="280.00" y2="261.30" stroke="#444" stroke-width="0.4"/>
<text x="280.00" y="265.20" font-size="3.5" text-anchor="middle" font-weight="normal" font-style="normal" fill="#333" stroke="#333" stroke-width="0.1" >0</text>
<line x1="298.96" y1="260.30" x2="298.96" y2="261.30" stroke="#444" stroke-width="0.4"/>
<text x="298.96" y="265.20" font-size="3.5" text-anchor="middle" font-weight="normal" font-style="normal" fill="#333" stroke="#333" stroke-width="0.1" >1000</text>
<line x1="317.93" y1="260.30" x2="317.93" y2="261.30" stroke="#444" stroke-width="0.4"/>
<text x="317.93" y="265.20" font-size="3.5" text-anchor="middle" font-weight="normal" font-style="normal" fill="#333" stroke="#333" stroke-width="0.1" >2000</text>
<line x1="336.89" y1="260.30" x2="336.89" y2="261.30" stroke="#444" stroke-width="0.4"/>
<text x="336.89" y="265.20" font-size="3.5" text-anchor="middle" font-weight="normal" font-style="normal" fill="#333" stroke="#333" stroke-width="0.1" >3000</text>
<line x1="355.85" y1="260.30" x2="355.85" y2="261.30" stroke="#444" stroke-width="0.4"/>
<text x="355.85" y="265.20" font-size="3.5" text-anchor="middle" font-weight="normal" font-style="normal" fill="#333" stroke="#333" stroke-width="0.1" >4000</text>
<line x1="374.82" y1="260.30" x2="374.82" y2="261.30" stroke="#444" stroke-width="0.4"/>
<text x="374.82" y="265.20" font-size="3.5" text-anchor="middle" font-weight="normal" font-style="normal" fill="#333" stroke="#333" stroke-width="0.1" >5000</text>
<line x1="385.00" y1="260.30" x2="385.00" y2="261.30" stroke="#444" stroke-width="0.4"/>
<text x="385.00" y="265.20" font-size="3.5" text-anchor="middle" font-weight="normal" font-style="normal" fill="#333" stroke="#333" stroke-width="0.1" >5537</text>
<text x="390.89" y="265.20" font-size="3.5" text-anchor="start" font-weight="normal" font-style="normal" fill="#333" stroke="#333" stroke-width="0.1" >aa</text>
<text x="333.20" y="275.70" font-size="5.35" text-anchor="middle" font-weight="bold" font-style="normal" fill="#111" stroke="#111" stroke-width="0.1" >CREBBP</text>
<line x1="285.00" y1="279.50" x2="285.00" y2="283.80" stroke="#c4c4c4" stroke-width="0.4"/>
<circle cx="285.00" cy="279.80" r="0.85" fill="#b6aeb2"/>
<line x1="342.50" y1="279.50" x2="342.50" y2="283.80" stroke="#c4c4c4" stroke-width="0.4"/>
<circle cx="342.50" cy="279.80" r="0.85" fill="#b6aeb2"/>
<line x1="345.80" y1="279.50" x2="345.80" y2="283.80" stroke="#c4c4c4" stroke-width="0.4"/>
<circle cx="345.80" cy="279.80" r="0.85" fill="#b6aeb2"/>
<line x1="351.30" y1="279.50" x2="351.30" y2="283.80" stroke="#c4c4c4" stroke-width="0.4"/>
<circle cx="351.30" cy="279.80" r="0.85" fill="#b6aeb2"/>
<rect x="280.00" y="284.72" width="105.00" height="2.35" fill="#d2d2d2" />
<rect x="295.80" y="283.80" width="3.70" height="4.20" fill="#6fae45" />
<rect x="305.60" y="283.80" width="3.40" height="4.20" fill="#ad0f3b" />
<rect x="327.50" y="283.80" width="3.30" height="4.20" fill="#2c4f95" />
<rect x="331.30" y="283.80" width="2.50" height="4.20" fill="#f1c232" />
<rect x="338.00" y="283.80" width="13.30" height="4.20" fill="#4a2a7a" />
<text x="344.65" y="286.65" font-size="2.1" text-anchor="middle" font-weight="normal" font-style="normal" fill="#fff" fill-opacity="0.75">HAT_KAT11</text>
<rect x="353.30" y="283.80" width="1.70" height="4.20" fill="#f1c232" />
<rect x="357.00" y="283.80" width="3.00" height="4.20" fill="#6fae45" />
<rect x="367.00" y="283.80" width="4.30" height="4.20" fill="#c0157a" />
<line x1="280.00" y1="288.30" x2="385.00" y2="288.30" stroke="#333" stroke-width="0.55"/>
<line x1="280.00" y1="288.30" x2="280.00" y2="289.30" stroke="#444" stroke-width="0.4"/>
<text x="280.00" y="293.20" font-size="3.5" text-anchor="middle" font-weight="normal" font-style="normal" fill="#333" stroke="#333" stroke-width="0.1" >0</text>
<line x1="297.20" y1="288.30" x2="297.20" y2="289.30" stroke="#444" stroke-width="0.4"/>
<text x="297.20" y="293.20" font-size="3.5" text-anchor="middle" font-weight="normal" font-style="normal" fill="#333" stroke="#333" stroke-width="0.1" >400</text>
<line x1="314.40" y1="288.30" x2="314.40" y2="289.30" stroke="#444" stroke-width="0.4"/>
<text x="314.40" y="293.20" font-size="3.5" text-anchor="middle" font-weight="normal" font-style="normal" fill="#333" stroke="#333" stroke-width="0.1" >800</text>
<line x1="331.60" y1="288.30" x2="331.60" y2="289.30" stroke="#444" stroke-width="0.4"/>
<text x="331.60" y="293.20" font-size="3.5" text-anchor="middle" font-weight="normal" font-style="normal" fill="#333" stroke="#333" stroke-width="0.1" >1200</text>
<line x1="348.80" y1="288.30" x2="348.80" y2="289.30" stroke="#444" stroke-width="0.4"/>
<text x="348.80" y="293.20" font-size="3.5" text-anchor="middle" font-weight="normal" font-style="normal" fill="#333" stroke="#333" stroke-width="0.1" >1600</text>
<line x1="366.00" y1="288.30" x2="366.00" y2="289.30" stroke="#444" stroke-width="0.4"/>
<text x="366.00" y="293.20" font-size="3.5" text-anchor="middle" font-weight="normal" font-style="normal" fill="#333" stroke="#333" stroke-width="0.1" >2000</text>
<line x1="385.00" y1="288.30" x2="385.00" y2="289.30" stroke="#444" stroke-width="0.4"/>
<text x="385.00" y="293.20" font-size="3.5" text-anchor="middle" font-weight="normal" font-style="normal" fill="#333" stroke="#333" stroke-width="0.1" >2442</text>
<text x="390.89" y="293.20" font-size="3.5" text-anchor="start" font-weight="normal" font-style="normal" fill="#333" stroke="#333" stroke-width="0.1" >aa</text>
<text x="333.20" y="304.70" font-size="5.35" text-anchor="middle" font-weight="bold" font-style="normal" fill="#111" stroke="#111" stroke-width="0.1" >HIST1H1E</text>
<line x1="318.00" y1="308.00" x2="318.00" y2="312.00" stroke="#c4c4c4" stroke-width="0.4"/>
<circle cx="318.00" cy="308.30" r="0.85" fill="#b6aeb2"/>
<line x1="338.00" y1="308.00" x2="338.00" y2="312.00" stroke="#c4c4c4" stroke-width="0.4"/>
<circle cx="338.00" cy="308.30" r="0.85" fill="#b6aeb2"/>
<line x1="345.00" y1="308.00" x2="345.00" y2="312.00" stroke="#c4c4c4" stroke-width="0.4"/>
<circle cx="345.00" cy="308.30" r="0.85" fill="#b6aeb2"/>
<line x1="360.00" y1="308.00" x2="360.00" y2="312.00" stroke="#c4c4c4" stroke-width="0.4"/>
<circle cx="360.00" cy="308.30" r="0.85" fill="#b6aeb2"/>
<line x1="365.00" y1="308.00" x2="365.00" y2="312.00" stroke="#c4c4c4" stroke-width="0.4"/>
<circle cx="365.00" cy="308.30" r="0.85" fill="#b6aeb2"/>
<line x1="366.50" y1="308.00" x2="366.50" y2="312.00" stroke="#c4c4c4" stroke-width="0.4"/>
<circle cx="366.50" cy="308.30" r="0.85" fill="#b6aeb2"/>
<rect x="280.00" y="312.95" width="106.00" height="2.41" fill="#d2d2d2" />
<rect x="297.50" y="312.00" width="35.00" height="4.30" fill="#6fae45" />
<text x="315.00" y="314.90" font-size="2.1" text-anchor="middle" font-weight="normal" font-style="normal" fill="#fff" fill-opacity="0.75">Linker_histone</text>
<line x1="280.00" y1="316.60" x2="386.00" y2="316.60" stroke="#333" stroke-width="0.55"/>
<line x1="280.00" y1="316.60" x2="280.00" y2="317.60" stroke="#444" stroke-width="0.4"/>
<text x="280.00" y="321.50" font-size="3.5" text-anchor="middle" font-weight="normal" font-style="normal" fill="#333" stroke="#333" stroke-width="0.1" >0</text>
<line x1="327.50" y1="316.60" x2="327.50" y2="317.60" stroke="#444" stroke-width="0.4"/>
<text x="327.50" y="321.50" font-size="3.5" text-anchor="middle" font-weight="normal" font-style="normal" fill="#333" stroke="#333" stroke-width="0.1" >100</text>
<line x1="386.00" y1="316.60" x2="386.00" y2="317.60" stroke="#444" stroke-width="0.4"/>
<text x="386.00" y="321.50" font-size="3.5" text-anchor="middle" font-weight="normal" font-style="normal" fill="#333" stroke="#333" stroke-width="0.1" >218</text>
<text x="390.92" y="321.50" font-size="3.5" text-anchor="start" font-weight="normal" font-style="normal" fill="#333" stroke="#333" stroke-width="0.1" >aa</text>
<text x="333.20" y="336.50" font-size="5.35" text-anchor="middle" font-weight="bold" font-style="normal" fill="#111" stroke="#111" stroke-width="0.1" >GNA13</text>
<line x1="292.10" y1="347.00" x2="292.10" y2="350.00" stroke="#c4c4c4" stroke-width="0.4"/>
<circle cx="292.10" cy="347.30" r="0.85" fill="#b6aeb2"/>
<line x1="344.50" y1="347.00" x2="344.50" y2="350.00" stroke="#c4c4c4" stroke-width="0.4"/>
<circle cx="344.50" cy="347.30" r="0.85" fill="#b6aeb2"/>
<line x1="362.60" y1="347.00" x2="362.60" y2="350.00" stroke="#c4c4c4" stroke-width="0.4"/>
<circle cx="362.60" cy="347.30" r="0.85" fill="#b6aeb2"/>
<line x1="375.80" y1="347.00" x2="375.80" y2="350.00" stroke="#c4c4c4" stroke-width="0.4"/>
<circle cx="375.80" cy="347.30" r="0.85" fill="#b6aeb2"/>
<line x1="382.50" y1="347.00" x2="382.50" y2="350.00" stroke="#c4c4c4" stroke-width="0.4"/>
<circle cx="382.50" cy="347.30" r="0.85" fill="#b6aeb2"/>
<rect x="280.00" y="350.99" width="106.00" height="2.52" fill="#d2d2d2" />
<rect x="286.30" y="350.00" width="96.70" height="4.50" fill="#6fae45" />
<text x="334.65" y="353.00" font-size="2.1" text-anchor="middle" font-weight="normal" font-style="normal" fill="#fff" fill-opacity="0.75">G-alpha</text>
<line x1="280.00" y1="354.80" x2="386.00" y2="354.80" stroke="#333" stroke-width="0.55"/>
<line x1="280.00" y1="354.80" x2="280.00" y2="355.80" stroke="#444" stroke-width="0.4"/>
<text x="280.00" y="359.70" font-size="3.5" text-anchor="middle" font-weight="normal" font-style="normal" fill="#333" stroke="#333" stroke-width="0.1" >0</text>
<line x1="308.12" y1="354.80" x2="308.12" y2="355.80" stroke="#444" stroke-width="0.4"/>
<text x="308.12" y="359.70" font-size="3.5" text-anchor="middle" font-weight="normal" font-style="normal" fill="#333" stroke="#333" stroke-width="0.1" >100</text>
<line x1="336.23" y1="354.80" x2="336.23" y2="355.80" stroke="#444" stroke-width="0.4"/>
<text x="336.23" y="359.70" font-size="3.5" text-anchor="middle" font-weight="normal" font-style="normal" fill="#333" stroke="#333" stroke-width="0.1" >200</text>
<line x1="364.35" y1="354.80" x2="364.35" y2="355.80" stroke="#444" stroke-width="0.4"/>
<text x="364.35" y="359.70" font-size="3.5" text-anchor="middle" font-weight="normal" font-style="normal" fill="#333" stroke="#333" stroke-width="0.1" >300</text>
<line x1="386.00" y1="354.80" x2="386.00" y2="355.80" stroke="#444" stroke-width="0.4"/>
<text x="386.00" y="359.70" font-size="3.5" text-anchor="middle" font-weight="normal" font-style="normal" fill="#333" stroke="#333" stroke-width="0.1" >377</text>
<text x="390.92" y="359.70" font-size="3.5" text-anchor="start" font-weight="normal" font-style="normal" fill="#333" stroke="#333" stroke-width="0.1" >aa</text>
<text x="455.20" y="248.50" font-size="5.35" text-anchor="middle" font-weight="bold" font-style="normal" fill="#111" stroke="#111" stroke-width="0.1" >EZH2</text>
<line x1="493.00" y1="252.50" x2="493.00" y2="256.00" stroke="#c4c4c4" stroke-width="0.4"/>
<circle cx="493.00" cy="252.80" r="0.85" fill="#b6aeb2"/>
<line x1="498.80" y1="252.50" x2="498.80" y2="256.00" stroke="#c4c4c4" stroke-width="0.4"/>
<circle cx="498.80" cy="252.80" r="0.85" fill="#b6aeb2"/>
<rect x="402.00" y="256.88" width="105.50" height="2.24" fill="#d2d2d2" />
<rect x="407.50" y="256.00" width="4.50" height="4.00" fill="#6fae45" />
<rect x="490.00" y="256.00" width="15.00" height="4.00" fill="#ad0f3b" />
<text x="497.50" y="258.75" font-size="2.1" text-anchor="middle" font-weight="normal" font-style="normal" fill="#fff" fill-opacity="0.75">SET</text>
<line x1="402.00" y1="260.30" x2="507.50" y2="260.30" stroke="#333" stroke-width="0.55"/>
<line x1="402.00" y1="260.30" x2="402.00" y2="261.30" stroke="#444" stroke-width="0.4"/>
<text x="402.00" y="265.20" font-size="3.5" text-anchor="middle" font-weight="normal" font-style="normal" fill="#333" stroke="#333" stroke-width="0.1" >0</text>
<line x1="430.28" y1="260.30" x2="430.28" y2="261.30" stroke="#444" stroke-width="0.4"/>
<text x="430.28" y="265.20" font-size="3.5" text-anchor="middle" font-weight="normal" font-style="normal" fill="#333" stroke="#333" stroke-width="0.1" >200</text>
<line x1="458.57" y1="260.30" x2="458.57" y2="261.30" stroke="#444" stroke-width="0.4"/>
<text x="458.57" y="265.20" font-size="3.5" text-anchor="middle" font-weight="normal" font-style="normal" fill="#333" stroke="#333" stroke-width="0.1" >400</text>
<line x1="486.85" y1="260.30" x2="486.85" y2="261.30" stroke="#444" stroke-width="0.4"/>
<text x="486.85" y="265.20" font-size="3.5" text-anchor="middle" font-weight="normal" font-style="normal" fill="#333" stroke="#333" stroke-width="0.1" >600</text>
<line x1="507.50" y1="260.30" x2="507.50" y2="261.30" stroke="#444" stroke-width="0.4"/>
<text x="507.50" y="265.20" font-size="3.5" text-anchor="middle" font-weight="normal" font-style="normal" fill="#333" stroke="#333" stroke-width="0.1" >746</text>
<text x="512.42" y="265.20" font-size="3.5" text-anchor="start" font-weight="normal" font-style="normal" fill="#333" stroke="#333" stroke-width="0.1" >aa</text>
<text x="493.60" y="243.90" font-size="2.7" text-anchor="middle" font-weight="normal" font-style="normal" fill="#444" stroke="#444" stroke-width="0.1" >Y646F/N</text>
<text x="455.00" y="275.70" font-size="5.35" text-anchor="middle" font-weight="bold" font-style="normal" fill="#111" stroke="#111" stroke-width="0.1" >TNFRSF14</text>
<line x1="410.60" y1="279.60" x2="410.60" y2="283.20" stroke="#c4c4c4" stroke-width="0.4"/>
<circle cx="410.60" cy="279.90" r="0.85" fill="#b6aeb2"/>
<line x1="422.20" y1="279.60" x2="422.20" y2="283.20" stroke="#c4c4c4" stroke-width="0.4"/>
<circle cx="422.20" cy="279.90" r="0.85" fill="#b6aeb2"/>
<line x1="444.30" y1="279.60" x2="444.30" y2="283.20" stroke="#c4c4c4" stroke-width="0.4"/>
<circle cx="444.30" cy="279.90" r="0.85" fill="#b6aeb2"/>
<line x1="458.00" y1="279.60" x2="458.00" y2="283.20" stroke="#c4c4c4" stroke-width="0.4"/>
<circle cx="458.00" cy="279.90" r="0.85" fill="#b6aeb2"/>
<rect x="402.00" y="284.21" width="105.50" height="2.58" fill="#d2d2d2" />
<rect x="431.30" y="283.20" width="15.70" height="4.60" fill="#6fae45" />
<text x="439.15" y="286.25" font-size="2.1" text-anchor="middle" font-weight="normal" font-style="normal" fill="#fff" fill-opacity="0.75">TNFR_c6</text>
<line x1="402.00" y1="288.10" x2="507.50" y2="288.10" stroke="#333" stroke-width="0.55"/>
<line x1="402.00" y1="288.10" x2="402.00" y2="289.10" stroke="#444" stroke-width="0.4"/>
<text x="402.00" y="293.00" font-size="3.5" text-anchor="middle" font-weight="normal" font-style="normal" fill="#333" stroke="#333" stroke-width="0.1" >0</text>
<line x1="439.28" y1="288.10" x2="439.28" y2="289.10" stroke="#444" stroke-width="0.4"/>
<text x="439.28" y="293.00" font-size="3.5" text-anchor="middle" font-weight="normal" font-style="normal" fill="#333" stroke="#333" stroke-width="0.1" >100</text>
<line x1="476.56" y1="288.10" x2="476.56" y2="289.10" stroke="#444" stroke-width="0.4"/>
<text x="476.56" y="293.00" font-size="3.5" text-anchor="middle" font-weight="normal" font-style="normal" fill="#333" stroke="#333" stroke-width="0.1" >200</text>
<line x1="507.50" y1="288.10" x2="507.50" y2="289.10" stroke="#444" stroke-width="0.4"/>
<text x="507.50" y="293.00" font-size="3.5" text-anchor="middle" font-weight="normal" font-style="normal" fill="#333" stroke="#333" stroke-width="0.1" >283</text>
<text x="512.42" y="293.00" font-size="3.5" text-anchor="start" font-weight="normal" font-style="normal" fill="#333" stroke="#333" stroke-width="0.1" >aa</text>
<text x="455.00" y="304.70" font-size="5.35" text-anchor="middle" font-weight="bold" font-style="normal" fill="#111" stroke="#111" stroke-width="0.1" >MYD88</text>
<line x1="479.50" y1="307.50" x2="479.50" y2="312.00" stroke="#c4c4c4" stroke-width="0.4"/>
<circle cx="479.50" cy="307.80" r="0.85" fill="#b6aeb2"/>
<line x1="497.00" y1="307.50" x2="497.00" y2="312.00" stroke="#c4c4c4" stroke-width="0.4"/>
<circle cx="497.00" cy="307.80" r="0.85" fill="#b6aeb2"/>
<rect x="402.00" y="312.95" width="105.50" height="2.41" fill="#d2d2d2" />
<rect x="413.80" y="312.00" width="27.50" height="4.30" fill="#6fae45" />
<text x="427.55" y="314.90" font-size="2.1" text-anchor="middle" font-weight="normal" font-style="normal" fill="#fff" fill-opacity="0.75">Death</text>
<rect x="460.00" y="312.00" width="47.50" height="4.30" fill="#ad0f3b" />
<text x="483.75" y="314.90" font-size="2.1" text-anchor="middle" font-weight="normal" font-style="normal" fill="#fff" fill-opacity="0.75">TIR_2</text>
<line x1="402.00" y1="316.60" x2="507.50" y2="316.60" stroke="#333" stroke-width="0.55"/>
<line x1="402.00" y1="316.60" x2="402.00" y2="317.60" stroke="#444" stroke-width="0.4"/>
<text x="402.00" y="321.50" font-size="3.5" text-anchor="middle" font-weight="normal" font-style="normal" fill="#333" stroke="#333" stroke-width="0.1" >0</text>
<line x1="437.64" y1="316.60" x2="437.64" y2="317.60" stroke="#444" stroke-width="0.4"/>
<text x="437.64" y="321.50" font-size="3.5" text-anchor="middle" font-weight="normal" font-style="normal" fill="#333" stroke="#333" stroke-width="0.1" >100</text>
<line x1="473.28" y1="316.60" x2="473.28" y2="317.60" stroke="#444" stroke-width="0.4"/>
<text x="473.28" y="321.50" font-size="3.5" text-anchor="middle" font-weight="normal" font-style="normal" fill="#333" stroke="#333" stroke-width="0.1" >200</text>
<line x1="507.50" y1="316.60" x2="507.50" y2="317.60" stroke="#444" stroke-width="0.4"/>
<text x="507.50" y="321.50" font-size="3.5" text-anchor="middle" font-weight="normal" font-style="normal" fill="#333" stroke="#333" stroke-width="0.1" >296</text>
<text x="512.42" y="321.50" font-size="3.5" text-anchor="start" font-weight="normal" font-style="normal" fill="#333" stroke="#333" stroke-width="0.1" >aa</text>
<text x="454.60" y="336.50" font-size="5.35" text-anchor="middle" font-weight="bold" font-style="normal" fill="#111" stroke="#111" stroke-width="0.1" >STAT6</text>
<line x1="454.50" y1="342.60" x2="454.50" y2="350.50" stroke="#c4c4c4" stroke-width="0.4"/>
<circle cx="454.50" cy="342.90" r="0.85" fill="#b6aeb2"/>
<rect x="402.00" y="351.49" width="105.50" height="2.52" fill="#d2d2d2" />
<rect x="402.00" y="350.50" width="14.30" height="4.50" fill="#6fae45" />
<text x="409.15" y="353.50" font-size="2.1" text-anchor="middle" font-weight="normal" font-style="normal" fill="#fff" fill-opacity="0.75">STAT_int</text>
<rect x="423.80" y="350.50" width="13.70" height="4.50" fill="#ad0f3b" />
<text x="430.65" y="353.50" font-size="2.1" text-anchor="middle" font-weight="normal" font-style="normal" fill="#fff" fill-opacity="0.75">STAT_alpha</text>
<rect x="437.50" y="350.50" width="30.00" height="4.50" fill="#2c4f95" />
<text x="452.50" y="353.50" font-size="2.1" text-anchor="middle" font-weight="normal" font-style="normal" fill="#fff" fill-opacity="0.75">STAT_bind</text>
<rect x="468.80" y="350.50" width="11.20" height="4.50" fill="#f1c232" />
<text x="474.40" y="353.50" font-size="2.1" text-anchor="middle" font-weight="normal" font-style="normal" fill="#fff" fill-opacity="0.75">SH2</text>
<rect x="483.00" y="350.50" width="24.50" height="4.50" fill="#4a2a7a" />
<text x="495.25" y="353.50" font-size="2.1" text-anchor="middle" font-weight="normal" font-style="normal" fill="#fff" fill-opacity="0.75">STAT6_C</text>
<line x1="402.00" y1="355.30" x2="507.50" y2="355.30" stroke="#333" stroke-width="0.55"/>
<line x1="402.00" y1="355.30" x2="402.00" y2="356.30" stroke="#444" stroke-width="0.4"/>
<text x="402.00" y="360.20" font-size="3.5" text-anchor="middle" font-weight="normal" font-style="normal" fill="#333" stroke="#333" stroke-width="0.1" >0</text>
<line x1="426.91" y1="355.30" x2="426.91" y2="356.30" stroke="#444" stroke-width="0.4"/>
<text x="426.91" y="360.20" font-size="3.5" text-anchor="middle" font-weight="normal" font-style="normal" fill="#333" stroke="#333" stroke-width="0.1" >200</text>
<line x1="451.82" y1="355.30" x2="451.82" y2="356.30" stroke="#444" stroke-width="0.4"/>
<text x="451.82" y="360.20" font-size="3.5" text-anchor="middle" font-weight="normal" font-style="normal" fill="#333" stroke="#333" stroke-width="0.1" >400</text>
<line x1="476.73" y1="355.30" x2="476.73" y2="356.30" stroke="#444" stroke-width="0.4"/>
<text x="476.73" y="360.20" font-size="3.5" text-anchor="middle" font-weight="normal" font-style="normal" fill="#333" stroke="#333" stroke-width="0.1" >600</text>
<line x1="507.50" y1="355.30" x2="507.50" y2="356.30" stroke="#444" stroke-width="0.4"/>
<text x="507.50" y="360.20" font-size="3.5" text-anchor="middle" font-weight="normal" font-style="normal" fill="#333" stroke="#333" stroke-width="0.1" >847</text>
<text x="512.42" y="360.20" font-size="3.5" text-anchor="start" font-weight="normal" font-style="normal" fill="#333" stroke="#333" stroke-width="0.1" >aa</text>
<text x="454.80" y="341.40" font-size="2.7" text-anchor="middle" font-weight="normal" font-style="normal" fill="#444" stroke="#444" stroke-width="0.1" >D419G/N</text>
<line x1="227.80" y1="316.20" x2="227.80" y2="322.30" stroke="#c4c4c4" stroke-width="0.4"/>
<line x1="493.00" y1="244.60" x2="493.00" y2="252.50" stroke="#c4c4c4" stroke-width="0.4"/>
<circle cx="360.8" cy="368.1" r="1.7" fill="#6fae45" stroke="#4a7a30" stroke-width="0.3"/>
<text x="364.40" y="369.50" font-size="3.8" text-anchor="start" font-weight="normal" font-style="normal" fill="#1a1a1a" stroke="#1a1a1a" stroke-width="0.1" >missense mutation</text>
<circle cx="402.1" cy="368.1" r="1.7" fill="#2a1a4a"/>
<text x="405.80" y="369.50" font-size="3.8" text-anchor="start" font-weight="normal" font-style="normal" fill="#1a1a1a" stroke="#1a1a1a" stroke-width="0.1" >truncating mutation</text>
<rect x="0.5" y="0.5" width="519" height="373" fill="none" stroke="#222" stroke-width="1"/>
</svg>
</body></html>
